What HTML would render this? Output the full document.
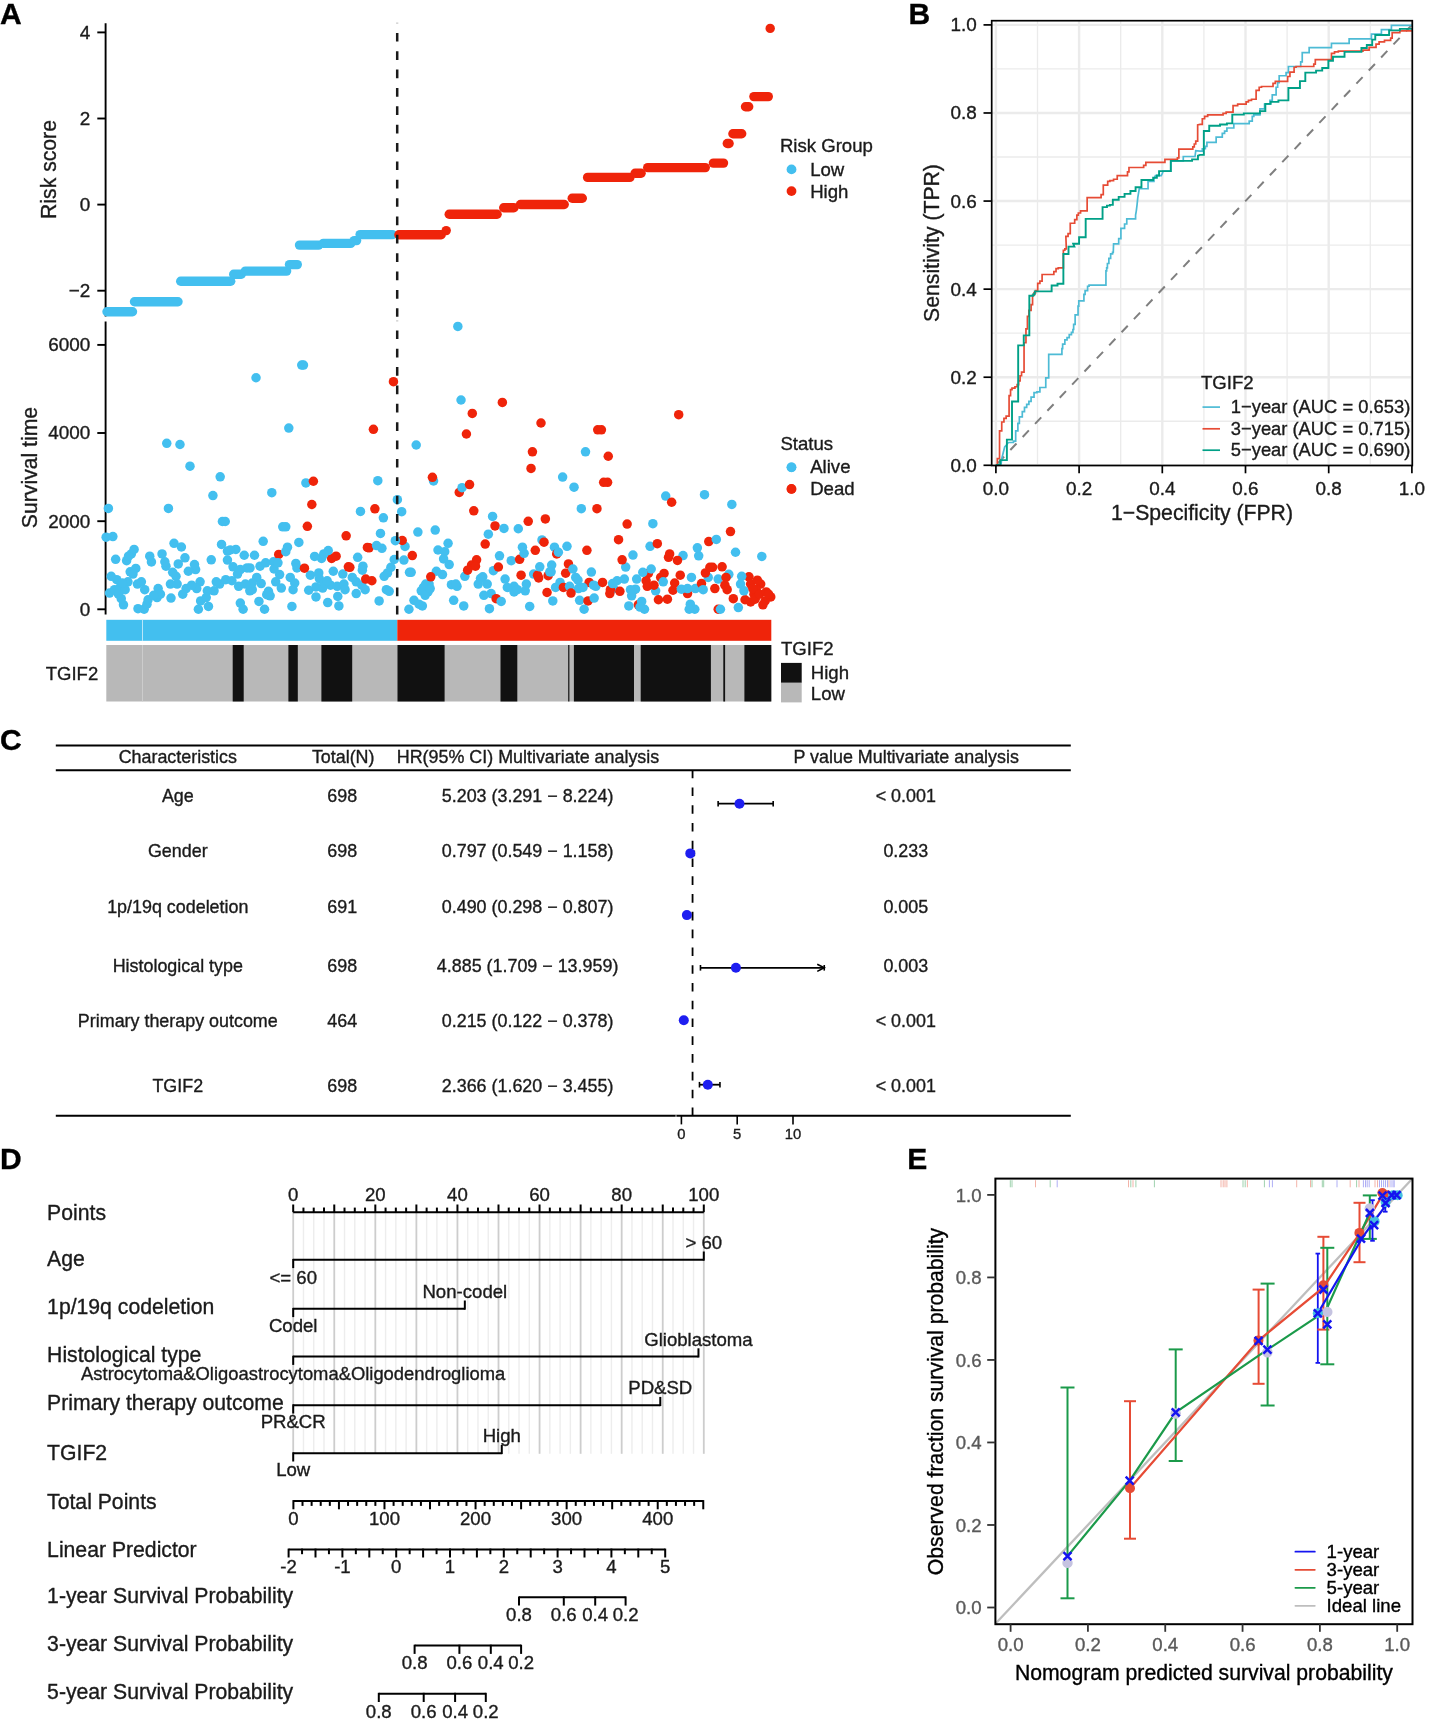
<!DOCTYPE html>
<html><head><meta charset="utf-8"><title>Figure</title>
<style>
html,body{margin:0;padding:0;background:#fff;}
body{width:1431px;height:1724px;overflow:hidden;}
svg{display:block;font-family:"Liberation Sans",sans-serif;will-change:transform;}
text{stroke:currentColor;stroke-width:0.35px;paint-order:stroke;}
</style></head><body>
<svg width="1431" height="1724" viewBox="0 0 1431 1724">
<rect x="0" y="0" width="1431" height="1724" fill="#fff"/>
<text x="0" y="23.9" font-size="30" font-weight="bold" fill="#000" color="#000">A</text>
<text x="908.5" y="24" font-size="30" font-weight="bold" fill="#000" color="#000">B</text>
<text x="0" y="749.6" font-size="30" font-weight="bold" fill="#000" color="#000">C</text>
<text x="0" y="1168.5" font-size="30" font-weight="bold" fill="#000" color="#000">D</text>
<text x="907.3" y="1168.9" font-size="30" font-weight="bold" fill="#000" color="#000">E</text>
<line x1="105.6" y1="23.3" x2="105.6" y2="316.6" stroke="#000" stroke-width="1.9"/>
<line x1="97.3" y1="32.4" x2="105.6" y2="32.4" stroke="#000" stroke-width="1.9"/>
<text x="90.3" y="38.8" font-size="18.9" text-anchor="end" fill="#1a1a1a" color="#1a1a1a">4</text>
<line x1="97.3" y1="118.5" x2="105.6" y2="118.5" stroke="#000" stroke-width="1.9"/>
<text x="90.3" y="124.9" font-size="18.9" text-anchor="end" fill="#1a1a1a" color="#1a1a1a">2</text>
<line x1="97.3" y1="204.6" x2="105.6" y2="204.6" stroke="#000" stroke-width="1.9"/>
<text x="90.3" y="211" font-size="18.9" text-anchor="end" fill="#1a1a1a" color="#1a1a1a">0</text>
<line x1="97.3" y1="290.7" x2="105.6" y2="290.7" stroke="#000" stroke-width="1.9"/>
<text x="90.3" y="297.1" font-size="18.9" text-anchor="end" fill="#1a1a1a" color="#1a1a1a">−2</text>
<text x="0" y="0" font-size="21.2" text-anchor="middle" fill="#1a1a1a" color="#1a1a1a" transform="translate(56.3,169.5) rotate(-90)">Risk score</text>
<line x1="107" y1="311.7" x2="132.5" y2="311.7" stroke="#43BFEF" stroke-width="9.4" stroke-linecap="round"/>
<line x1="134.5" y1="301.8" x2="178" y2="301.8" stroke="#43BFEF" stroke-width="9.4" stroke-linecap="round"/>
<line x1="180.7" y1="281.2" x2="230.7" y2="281.2" stroke="#43BFEF" stroke-width="9.4" stroke-linecap="round"/>
<line x1="233.7" y1="274.2" x2="241.3" y2="274.2" stroke="#43BFEF" stroke-width="9.4" stroke-linecap="round"/>
<line x1="245.3" y1="271.1" x2="286.6" y2="271.1" stroke="#43BFEF" stroke-width="9.4" stroke-linecap="round"/>
<line x1="289.5" y1="264.6" x2="297.3" y2="264.6" stroke="#43BFEF" stroke-width="9.4" stroke-linecap="round"/>
<line x1="299.5" y1="245.1" x2="318.6" y2="245.1" stroke="#43BFEF" stroke-width="9.4" stroke-linecap="round"/>
<line x1="323.3" y1="243.4" x2="350.7" y2="243.4" stroke="#43BFEF" stroke-width="9.4" stroke-linecap="round"/>
<line x1="354.2" y1="240.6" x2="356.6" y2="240.6" stroke="#43BFEF" stroke-width="9.4" stroke-linecap="round"/>
<line x1="360.1" y1="234.6" x2="392.3" y2="234.6" stroke="#43BFEF" stroke-width="9.4" stroke-linecap="round"/>
<line x1="398.9" y1="234.7" x2="441.2" y2="234.7" stroke="#EF240A" stroke-width="9.4" stroke-linecap="round"/>
<line x1="446.2" y1="230.6" x2="446.2" y2="230.6" stroke="#EF240A" stroke-width="9.4" stroke-linecap="round"/>
<line x1="449.2" y1="214.3" x2="497.1" y2="214.3" stroke="#EF240A" stroke-width="9.4" stroke-linecap="round"/>
<line x1="503.7" y1="207.8" x2="513.9" y2="207.8" stroke="#EF240A" stroke-width="9.4" stroke-linecap="round"/>
<line x1="520.5" y1="204.5" x2="564.2" y2="204.5" stroke="#EF240A" stroke-width="9.4" stroke-linecap="round"/>
<line x1="572.2" y1="198.3" x2="582.3" y2="198.3" stroke="#EF240A" stroke-width="9.4" stroke-linecap="round"/>
<line x1="587.6" y1="177.4" x2="629.9" y2="177.4" stroke="#EF240A" stroke-width="9.4" stroke-linecap="round"/>
<line x1="635.1" y1="173.2" x2="641.1" y2="173.2" stroke="#EF240A" stroke-width="9.4" stroke-linecap="round"/>
<line x1="647.7" y1="167.6" x2="705.3" y2="167.6" stroke="#EF240A" stroke-width="9.4" stroke-linecap="round"/>
<line x1="713.4" y1="163.1" x2="723.5" y2="163.1" stroke="#EF240A" stroke-width="9.4" stroke-linecap="round"/>
<line x1="727.3" y1="143.5" x2="729.1" y2="143.5" stroke="#EF240A" stroke-width="9.4" stroke-linecap="round"/>
<line x1="732.9" y1="133.8" x2="741.7" y2="133.8" stroke="#EF240A" stroke-width="9.4" stroke-linecap="round"/>
<line x1="745.5" y1="106.7" x2="748.7" y2="106.7" stroke="#EF240A" stroke-width="9.4" stroke-linecap="round"/>
<line x1="753.9" y1="96.6" x2="768.3" y2="96.6" stroke="#EF240A" stroke-width="9.4" stroke-linecap="round"/>
<circle cx="770.2" cy="28.4" r="4.7" fill="#EF240A"/>
<line x1="397.2" y1="32.9" x2="397.2" y2="316.8" stroke="#1a1a1a" stroke-width="2.5" stroke-dasharray="8.7 9.66"/>
<line x1="397.2" y1="22.6" x2="397.2" y2="23.6" stroke="#bbbbbb" stroke-width="2.2"/>
<text x="779.9" y="152.1" font-size="18.6" fill="#1a1a1a" color="#1a1a1a">Risk Group</text>
<circle cx="791.5" cy="169.4" r="4.9" fill="#43BFEF"/>
<circle cx="791.5" cy="191.1" r="4.9" fill="#EF240A"/>
<text x="810.2" y="176.3" font-size="18.6" fill="#1a1a1a" color="#1a1a1a">Low</text>
<text x="810.2" y="197.9" font-size="18.6" fill="#1a1a1a" color="#1a1a1a">High</text>
<line x1="105.6" y1="321.4" x2="105.6" y2="614.4" stroke="#000" stroke-width="1.9"/>
<line x1="97.3" y1="344.9" x2="105.6" y2="344.9" stroke="#000" stroke-width="1.9"/>
<text x="90.3" y="351.3" font-size="18.9" text-anchor="end" fill="#1a1a1a" color="#1a1a1a">6000</text>
<line x1="97.3" y1="433" x2="105.6" y2="433" stroke="#000" stroke-width="1.9"/>
<text x="90.3" y="439.4" font-size="18.9" text-anchor="end" fill="#1a1a1a" color="#1a1a1a">4000</text>
<line x1="97.3" y1="521.2" x2="105.6" y2="521.2" stroke="#000" stroke-width="1.9"/>
<text x="90.3" y="527.6" font-size="18.9" text-anchor="end" fill="#1a1a1a" color="#1a1a1a">2000</text>
<line x1="97.3" y1="609.3" x2="105.6" y2="609.3" stroke="#000" stroke-width="1.9"/>
<text x="90.3" y="615.7" font-size="18.9" text-anchor="end" fill="#1a1a1a" color="#1a1a1a">0</text>
<text x="0" y="0" font-size="21.2" text-anchor="middle" fill="#1a1a1a" color="#1a1a1a" transform="translate(37.3,467.5) rotate(-90)">Survival time</text>
<circle cx="115.65" cy="559.28" r="4.75" fill="#43BFEF"/>
<circle cx="112.86" cy="536.59" r="4.75" fill="#43BFEF"/>
<circle cx="109.5" cy="593.05" r="4.75" fill="#43BFEF"/>
<circle cx="108.39" cy="508.41" r="4.75" fill="#43BFEF"/>
<circle cx="116.77" cy="579.63" r="4.75" fill="#43BFEF"/>
<circle cx="130.19" cy="571.81" r="4.75" fill="#43BFEF"/>
<circle cx="114.53" cy="589.7" r="4.75" fill="#43BFEF"/>
<circle cx="106.15" cy="537.15" r="4.75" fill="#43BFEF"/>
<circle cx="135.78" cy="568.45" r="4.75" fill="#43BFEF"/>
<circle cx="127.95" cy="581.87" r="4.75" fill="#43BFEF"/>
<circle cx="120.13" cy="587.46" r="4.75" fill="#43BFEF"/>
<circle cx="125.16" cy="589.7" r="4.75" fill="#43BFEF"/>
<circle cx="132.98" cy="574.04" r="4.75" fill="#43BFEF"/>
<circle cx="118.45" cy="594.17" r="4.75" fill="#43BFEF"/>
<circle cx="122.36" cy="582.99" r="4.75" fill="#43BFEF"/>
<circle cx="111.18" cy="576.28" r="4.75" fill="#43BFEF"/>
<circle cx="131.31" cy="553.92" r="4.75" fill="#43BFEF"/>
<circle cx="144.16" cy="609.26" r="4.75" fill="#43BFEF"/>
<circle cx="123.48" cy="604.79" r="4.75" fill="#43BFEF"/>
<circle cx="126.61" cy="560.63" r="4.75" fill="#43BFEF"/>
<circle cx="128.51" cy="556.15" r="4.75" fill="#43BFEF"/>
<circle cx="121.24" cy="598.64" r="4.75" fill="#43BFEF"/>
<circle cx="138.01" cy="608.7" r="4.75" fill="#43BFEF"/>
<circle cx="157.02" cy="597.52" r="4.75" fill="#43BFEF"/>
<circle cx="134.1" cy="549.45" r="4.75" fill="#43BFEF"/>
<circle cx="165.97" cy="566.22" r="4.75" fill="#43BFEF"/>
<circle cx="151.43" cy="561.97" r="4.75" fill="#43BFEF"/>
<circle cx="137.46" cy="584.11" r="4.75" fill="#43BFEF"/>
<circle cx="172.67" cy="572.37" r="4.75" fill="#43BFEF"/>
<circle cx="141.37" cy="581.87" r="4.75" fill="#43BFEF"/>
<circle cx="166.76" cy="443.28" r="4.75" fill="#43BFEF"/>
<circle cx="158.14" cy="588.58" r="4.75" fill="#43BFEF"/>
<circle cx="146.96" cy="604.23" r="4.75" fill="#43BFEF"/>
<circle cx="174.02" cy="543.3" r="4.75" fill="#43BFEF"/>
<circle cx="144.72" cy="589.7" r="4.75" fill="#43BFEF"/>
<circle cx="149.75" cy="556.15" r="4.75" fill="#43BFEF"/>
<circle cx="148.08" cy="599.76" r="4.75" fill="#43BFEF"/>
<circle cx="177.15" cy="584.11" r="4.75" fill="#43BFEF"/>
<circle cx="160.38" cy="594.17" r="4.75" fill="#43BFEF"/>
<circle cx="186.09" cy="588.58" r="4.75" fill="#43BFEF"/>
<circle cx="153.67" cy="595.29" r="4.75" fill="#43BFEF"/>
<circle cx="162.05" cy="553.92" r="4.75" fill="#43BFEF"/>
<circle cx="164.85" cy="561.74" r="4.75" fill="#43BFEF"/>
<circle cx="170.44" cy="584.11" r="4.75" fill="#43BFEF"/>
<circle cx="168.43" cy="508.41" r="4.75" fill="#43BFEF"/>
<circle cx="195.59" cy="569.57" r="4.75" fill="#43BFEF"/>
<circle cx="190" cy="466.15" r="4.75" fill="#43BFEF"/>
<circle cx="178.26" cy="563.98" r="4.75" fill="#43BFEF"/>
<circle cx="171" cy="598.08" r="4.75" fill="#43BFEF"/>
<circle cx="200.07" cy="581.87" r="4.75" fill="#43BFEF"/>
<circle cx="194.48" cy="564.54" r="4.75" fill="#43BFEF"/>
<circle cx="198.39" cy="609.26" r="4.75" fill="#43BFEF"/>
<circle cx="176.03" cy="576.28" r="4.75" fill="#43BFEF"/>
<circle cx="208.45" cy="606.47" r="4.75" fill="#43BFEF"/>
<circle cx="196.71" cy="588.58" r="4.75" fill="#43BFEF"/>
<circle cx="179.97" cy="444.51" r="4.75" fill="#43BFEF"/>
<circle cx="184.97" cy="557.83" r="4.75" fill="#43BFEF"/>
<circle cx="214.04" cy="590.81" r="4.75" fill="#43BFEF"/>
<circle cx="181.4" cy="546.99" r="4.75" fill="#43BFEF"/>
<circle cx="182.74" cy="594.17" r="4.75" fill="#43BFEF"/>
<circle cx="188.33" cy="571.25" r="4.75" fill="#43BFEF"/>
<circle cx="191.68" cy="585.22" r="4.75" fill="#43BFEF"/>
<circle cx="222.43" cy="521.49" r="4.75" fill="#43BFEF"/>
<circle cx="225.22" cy="521.49" r="4.75" fill="#43BFEF"/>
<circle cx="212.92" cy="495.55" r="4.75" fill="#43BFEF"/>
<circle cx="211.25" cy="559.84" r="4.75" fill="#43BFEF"/>
<circle cx="200.63" cy="600.88" r="4.75" fill="#43BFEF"/>
<circle cx="207.33" cy="590.81" r="4.75" fill="#43BFEF"/>
<circle cx="219.63" cy="584.11" r="4.75" fill="#43BFEF"/>
<circle cx="221.53" cy="544.41" r="4.75" fill="#43BFEF"/>
<circle cx="206.22" cy="597.52" r="4.75" fill="#43BFEF"/>
<circle cx="220.19" cy="476.77" r="4.75" fill="#43BFEF"/>
<circle cx="240.32" cy="603.11" r="4.75" fill="#43BFEF"/>
<circle cx="216.28" cy="581.87" r="4.75" fill="#43BFEF"/>
<circle cx="237.52" cy="574.04" r="4.75" fill="#43BFEF"/>
<circle cx="227.46" cy="551.12" r="4.75" fill="#43BFEF"/>
<circle cx="256.71" cy="577.4" r="4.75" fill="#43BFEF"/>
<circle cx="238.64" cy="586.34" r="4.75" fill="#43BFEF"/>
<circle cx="244.23" cy="555.26" r="4.75" fill="#43BFEF"/>
<circle cx="225.78" cy="579.63" r="4.75" fill="#43BFEF"/>
<circle cx="249.82" cy="590.81" r="4.75" fill="#43BFEF"/>
<circle cx="256.03" cy="377.74" r="4.75" fill="#43BFEF"/>
<circle cx="254.47" cy="555.26" r="4.75" fill="#43BFEF"/>
<circle cx="258.94" cy="601.44" r="4.75" fill="#43BFEF"/>
<circle cx="227.46" cy="560.07" r="4.75" fill="#43BFEF"/>
<circle cx="235.85" cy="549.45" r="4.75" fill="#43BFEF"/>
<circle cx="252.24" cy="589.7" r="4.75" fill="#43BFEF"/>
<circle cx="233.05" cy="566.78" r="4.75" fill="#43BFEF"/>
<circle cx="230.25" cy="550" r="4.75" fill="#43BFEF"/>
<circle cx="243.11" cy="609.26" r="4.75" fill="#43BFEF"/>
<circle cx="231.93" cy="580.75" r="4.75" fill="#43BFEF"/>
<circle cx="270.13" cy="595.85" r="4.75" fill="#43BFEF"/>
<circle cx="250" cy="567.89" r="4.75" fill="#43BFEF"/>
<circle cx="264.53" cy="609.26" r="4.75" fill="#43BFEF"/>
<circle cx="240.32" cy="569.57" r="4.75" fill="#43BFEF"/>
<circle cx="260.06" cy="566.22" r="4.75" fill="#43BFEF"/>
<circle cx="266.77" cy="594.73" r="4.75" fill="#43BFEF"/>
<circle cx="279.63" cy="574.6" r="4.75" fill="#43BFEF"/>
<circle cx="252.24" cy="582.99" r="4.75" fill="#43BFEF"/>
<circle cx="247.03" cy="567.89" r="4.75" fill="#43BFEF"/>
<circle cx="261.18" cy="583.55" r="4.75" fill="#43BFEF"/>
<circle cx="275.72" cy="581.87" r="4.75" fill="#43BFEF"/>
<circle cx="245.35" cy="584.11" r="4.75" fill="#43BFEF"/>
<circle cx="263.19" cy="541.28" r="4.75" fill="#43BFEF"/>
<circle cx="273.48" cy="561.74" r="4.75" fill="#43BFEF"/>
<circle cx="271.8" cy="492.65" r="4.75" fill="#43BFEF"/>
<circle cx="278.73" cy="554.48" r="4.75" fill="#EF240A"/>
<circle cx="265.65" cy="562.86" r="4.75" fill="#43BFEF"/>
<circle cx="268.45" cy="591.37" r="4.75" fill="#43BFEF"/>
<circle cx="295.84" cy="563.42" r="4.75" fill="#43BFEF"/>
<circle cx="290.25" cy="577.4" r="4.75" fill="#43BFEF"/>
<circle cx="285.78" cy="526.86" r="4.75" fill="#43BFEF"/>
<circle cx="294.72" cy="582.99" r="4.75" fill="#43BFEF"/>
<circle cx="274.04" cy="569.01" r="4.75" fill="#43BFEF"/>
<circle cx="277.95" cy="562.86" r="4.75" fill="#43BFEF"/>
<circle cx="285.78" cy="551.68" r="4.75" fill="#43BFEF"/>
<circle cx="305.9" cy="482.92" r="4.75" fill="#43BFEF"/>
<circle cx="301.76" cy="365.03" r="4.75" fill="#43BFEF"/>
<circle cx="293.05" cy="589.7" r="4.75" fill="#43BFEF"/>
<circle cx="281.31" cy="588.02" r="4.75" fill="#43BFEF"/>
<circle cx="303.47" cy="365.03" r="4.75" fill="#43BFEF"/>
<circle cx="282.76" cy="526.86" r="4.75" fill="#43BFEF"/>
<circle cx="310.38" cy="575.16" r="4.75" fill="#43BFEF"/>
<circle cx="298.86" cy="542.4" r="4.75" fill="#43BFEF"/>
<circle cx="313.39" cy="481.24" r="4.75" fill="#EF240A"/>
<circle cx="321.56" cy="558.39" r="4.75" fill="#43BFEF"/>
<circle cx="308.7" cy="590.25" r="4.75" fill="#43BFEF"/>
<circle cx="288.8" cy="428.12" r="4.75" fill="#43BFEF"/>
<circle cx="291.93" cy="606.47" r="4.75" fill="#43BFEF"/>
<circle cx="296.96" cy="567.89" r="4.75" fill="#43BFEF"/>
<circle cx="307.36" cy="526.3" r="4.75" fill="#EF240A"/>
<circle cx="287.46" cy="547.21" r="4.75" fill="#43BFEF"/>
<circle cx="331.62" cy="558.39" r="4.75" fill="#EF240A"/>
<circle cx="319.32" cy="578.52" r="4.75" fill="#43BFEF"/>
<circle cx="311.83" cy="504.5" r="4.75" fill="#EF240A"/>
<circle cx="314.62" cy="556.38" r="4.75" fill="#43BFEF"/>
<circle cx="318.76" cy="572.92" r="4.75" fill="#43BFEF"/>
<circle cx="330.5" cy="585.22" r="4.75" fill="#43BFEF"/>
<circle cx="322.67" cy="588.02" r="4.75" fill="#43BFEF"/>
<circle cx="323.79" cy="582.99" r="4.75" fill="#43BFEF"/>
<circle cx="304.45" cy="568.23" r="4.75" fill="#EF240A"/>
<circle cx="328.26" cy="550.56" r="4.75" fill="#43BFEF"/>
<circle cx="323.79" cy="553.92" r="4.75" fill="#43BFEF"/>
<circle cx="315.97" cy="596.96" r="4.75" fill="#43BFEF"/>
<circle cx="315.97" cy="586.9" r="4.75" fill="#43BFEF"/>
<circle cx="337.21" cy="586.34" r="4.75" fill="#43BFEF"/>
<circle cx="338.89" cy="605.91" r="4.75" fill="#43BFEF"/>
<circle cx="342.8" cy="574.04" r="4.75" fill="#43BFEF"/>
<circle cx="333.3" cy="571.25" r="4.75" fill="#43BFEF"/>
<circle cx="327.71" cy="602.55" r="4.75" fill="#43BFEF"/>
<circle cx="336.09" cy="556.15" r="4.75" fill="#EF240A"/>
<circle cx="348.39" cy="566.78" r="4.75" fill="#EF240A"/>
<circle cx="327.15" cy="580.75" r="4.75" fill="#43BFEF"/>
<circle cx="337.77" cy="596.4" r="4.75" fill="#43BFEF"/>
<circle cx="356.22" cy="593.61" r="4.75" fill="#43BFEF"/>
<circle cx="349.84" cy="567.33" r="4.75" fill="#EF240A"/>
<circle cx="356.22" cy="581.87" r="4.75" fill="#43BFEF"/>
<circle cx="361.81" cy="585.22" r="4.75" fill="#43BFEF"/>
<circle cx="346.15" cy="535.81" r="4.75" fill="#EF240A"/>
<circle cx="343.92" cy="584.11" r="4.75" fill="#43BFEF"/>
<circle cx="352.3" cy="577.4" r="4.75" fill="#43BFEF"/>
<circle cx="362.92" cy="566.22" r="4.75" fill="#43BFEF"/>
<circle cx="345.04" cy="589.7" r="4.75" fill="#43BFEF"/>
<circle cx="357.67" cy="557.27" r="4.75" fill="#43BFEF"/>
<circle cx="377.8" cy="480.68" r="4.75" fill="#43BFEF"/>
<circle cx="367.4" cy="547.43" r="4.75" fill="#EF240A"/>
<circle cx="362.37" cy="570.13" r="4.75" fill="#43BFEF"/>
<circle cx="365.16" cy="589.7" r="4.75" fill="#43BFEF"/>
<circle cx="374.89" cy="508.86" r="4.75" fill="#EF240A"/>
<circle cx="379.14" cy="600.88" r="4.75" fill="#43BFEF"/>
<circle cx="386.4" cy="589.7" r="4.75" fill="#43BFEF"/>
<circle cx="360.47" cy="511.43" r="4.75" fill="#43BFEF"/>
<circle cx="394.23" cy="559.51" r="4.75" fill="#43BFEF"/>
<circle cx="369.07" cy="547.77" r="4.75" fill="#EF240A"/>
<circle cx="365.72" cy="579.07" r="4.75" fill="#EF240A"/>
<circle cx="397.36" cy="499.69" r="4.75" fill="#43BFEF"/>
<circle cx="389.2" cy="591.37" r="4.75" fill="#43BFEF"/>
<circle cx="381.93" cy="548.33" r="4.75" fill="#43BFEF"/>
<circle cx="387.52" cy="572.92" r="4.75" fill="#43BFEF"/>
<circle cx="390.88" cy="567.33" r="4.75" fill="#43BFEF"/>
<circle cx="371.87" cy="580.75" r="4.75" fill="#EF240A"/>
<circle cx="380.48" cy="533.46" r="4.75" fill="#43BFEF"/>
<circle cx="405.03" cy="546.43" r="4.75" fill="#43BFEF"/>
<circle cx="373.42" cy="429.34" r="4.75" fill="#EF240A"/>
<circle cx="402.24" cy="540.5" r="4.75" fill="#EF240A"/>
<circle cx="376.57" cy="545.53" r="4.75" fill="#43BFEF"/>
<circle cx="384.17" cy="576.28" r="4.75" fill="#43BFEF"/>
<circle cx="403.91" cy="560.07" r="4.75" fill="#43BFEF"/>
<circle cx="408.94" cy="609.26" r="4.75" fill="#43BFEF"/>
<circle cx="401.68" cy="511.65" r="4.75" fill="#43BFEF"/>
<circle cx="395.35" cy="540.72" r="4.75" fill="#43BFEF"/>
<circle cx="393.47" cy="381.66" r="4.75" fill="#EF240A"/>
<circle cx="383.39" cy="517.8" r="4.75" fill="#43BFEF"/>
<circle cx="421.24" cy="590.81" r="4.75" fill="#43BFEF"/>
<circle cx="416.21" cy="445" r="4.75" fill="#43BFEF"/>
<circle cx="411.18" cy="572.37" r="4.75" fill="#43BFEF"/>
<circle cx="425.72" cy="584.11" r="4.75" fill="#43BFEF"/>
<circle cx="429.07" cy="584.11" r="4.75" fill="#43BFEF"/>
<circle cx="412.3" cy="555.59" r="4.75" fill="#EF240A"/>
<circle cx="422.36" cy="605.91" r="4.75" fill="#43BFEF"/>
<circle cx="423.48" cy="587.46" r="4.75" fill="#43BFEF"/>
<circle cx="433.54" cy="480.91" r="4.75" fill="#43BFEF"/>
<circle cx="413.98" cy="600.32" r="4.75" fill="#43BFEF"/>
<circle cx="419.01" cy="604.23" r="4.75" fill="#43BFEF"/>
<circle cx="409.5" cy="572.37" r="4.75" fill="#43BFEF"/>
<circle cx="417.89" cy="532.12" r="4.75" fill="#43BFEF"/>
<circle cx="448.08" cy="543.3" r="4.75" fill="#43BFEF"/>
<circle cx="442.49" cy="574.6" r="4.75" fill="#43BFEF"/>
<circle cx="436.34" cy="571.25" r="4.75" fill="#43BFEF"/>
<circle cx="427.95" cy="591.93" r="4.75" fill="#43BFEF"/>
<circle cx="451.43" cy="584.66" r="4.75" fill="#43BFEF"/>
<circle cx="435.22" cy="530.1" r="4.75" fill="#43BFEF"/>
<circle cx="459.26" cy="492.42" r="4.75" fill="#EF240A"/>
<circle cx="430.75" cy="576.84" r="4.75" fill="#EF240A"/>
<circle cx="425.16" cy="595.29" r="4.75" fill="#43BFEF"/>
<circle cx="430.19" cy="588.58" r="4.75" fill="#43BFEF"/>
<circle cx="453.67" cy="600.32" r="4.75" fill="#43BFEF"/>
<circle cx="432.42" cy="477.33" r="4.75" fill="#EF240A"/>
<circle cx="457.02" cy="586.34" r="4.75" fill="#43BFEF"/>
<circle cx="438.01" cy="550" r="4.75" fill="#43BFEF"/>
<circle cx="443.6" cy="558.95" r="4.75" fill="#43BFEF"/>
<circle cx="457.85" cy="326.39" r="4.75" fill="#43BFEF"/>
<circle cx="472.28" cy="413.45" r="4.75" fill="#EF240A"/>
<circle cx="455.9" cy="584.11" r="4.75" fill="#43BFEF"/>
<circle cx="463.73" cy="605.91" r="4.75" fill="#43BFEF"/>
<circle cx="466.41" cy="433.99" r="4.75" fill="#EF240A"/>
<circle cx="444.72" cy="551.68" r="4.75" fill="#43BFEF"/>
<circle cx="449.19" cy="564.54" r="4.75" fill="#43BFEF"/>
<circle cx="464.85" cy="576.28" r="4.75" fill="#43BFEF"/>
<circle cx="471.56" cy="565.1" r="4.75" fill="#EF240A"/>
<circle cx="482.74" cy="576.84" r="4.75" fill="#43BFEF"/>
<circle cx="461.03" cy="400" r="4.75" fill="#43BFEF"/>
<circle cx="491.12" cy="593.61" r="4.75" fill="#43BFEF"/>
<circle cx="483.86" cy="595.29" r="4.75" fill="#43BFEF"/>
<circle cx="476.59" cy="559.84" r="4.75" fill="#EF240A"/>
<circle cx="485.2" cy="544.08" r="4.75" fill="#EF240A"/>
<circle cx="462.05" cy="487.73" r="4.75" fill="#43BFEF"/>
<circle cx="488.33" cy="534.13" r="4.75" fill="#43BFEF"/>
<circle cx="475.47" cy="566.22" r="4.75" fill="#EF240A"/>
<circle cx="489.45" cy="608.7" r="4.75" fill="#43BFEF"/>
<circle cx="469.54" cy="484.6" r="4.75" fill="#EF240A"/>
<circle cx="467.64" cy="570.13" r="4.75" fill="#EF240A"/>
<circle cx="502.36" cy="402.44" r="4.75" fill="#EF240A"/>
<circle cx="499.51" cy="555.82" r="4.75" fill="#43BFEF"/>
<circle cx="493.36" cy="570.69" r="4.75" fill="#43BFEF"/>
<circle cx="498.39" cy="567" r="4.75" fill="#EF240A"/>
<circle cx="478.26" cy="584.11" r="4.75" fill="#43BFEF"/>
<circle cx="492.58" cy="516.46" r="4.75" fill="#43BFEF"/>
<circle cx="480.5" cy="578.52" r="4.75" fill="#43BFEF"/>
<circle cx="473.79" cy="510.87" r="4.75" fill="#EF240A"/>
<circle cx="514.04" cy="586.34" r="4.75" fill="#43BFEF"/>
<circle cx="514.04" cy="591.93" r="4.75" fill="#43BFEF"/>
<circle cx="496.15" cy="598.64" r="4.75" fill="#EF240A"/>
<circle cx="511.25" cy="560.63" r="4.75" fill="#43BFEF"/>
<circle cx="487.21" cy="584.11" r="4.75" fill="#43BFEF"/>
<circle cx="518.29" cy="528.76" r="4.75" fill="#43BFEF"/>
<circle cx="525.22" cy="590.81" r="4.75" fill="#43BFEF"/>
<circle cx="501.19" cy="601.44" r="4.75" fill="#43BFEF"/>
<circle cx="521.09" cy="575.16" r="4.75" fill="#EF240A"/>
<circle cx="495.04" cy="525.97" r="4.75" fill="#EF240A"/>
<circle cx="529.7" cy="606.47" r="4.75" fill="#43BFEF"/>
<circle cx="505.1" cy="579.07" r="4.75" fill="#43BFEF"/>
<circle cx="507.33" cy="587.46" r="4.75" fill="#43BFEF"/>
<circle cx="503.98" cy="528.43" r="4.75" fill="#43BFEF"/>
<circle cx="541.99" cy="539.94" r="4.75" fill="#43BFEF"/>
<circle cx="517.4" cy="589.7" r="4.75" fill="#43BFEF"/>
<circle cx="533.61" cy="574.04" r="4.75" fill="#43BFEF"/>
<circle cx="519.63" cy="559.28" r="4.75" fill="#EF240A"/>
<circle cx="531.04" cy="468.39" r="4.75" fill="#EF240A"/>
<circle cx="548.14" cy="575.72" r="4.75" fill="#EF240A"/>
<circle cx="547.03" cy="592.49" r="4.75" fill="#EF240A"/>
<circle cx="532.44" cy="451.84" r="4.75" fill="#EF240A"/>
<circle cx="538.64" cy="577.96" r="4.75" fill="#EF240A"/>
<circle cx="528.24" cy="521.27" r="4.75" fill="#EF240A"/>
<circle cx="522.43" cy="547.21" r="4.75" fill="#43BFEF"/>
<circle cx="535.29" cy="550.34" r="4.75" fill="#EF240A"/>
<circle cx="537.52" cy="575.16" r="4.75" fill="#EF240A"/>
<circle cx="539.76" cy="566.78" r="4.75" fill="#43BFEF"/>
<circle cx="555.59" cy="587.46" r="4.75" fill="#43BFEF"/>
<circle cx="524.11" cy="553.36" r="4.75" fill="#43BFEF"/>
<circle cx="526.34" cy="584.11" r="4.75" fill="#43BFEF"/>
<circle cx="560.06" cy="582.43" r="4.75" fill="#43BFEF"/>
<circle cx="563.42" cy="587.46" r="4.75" fill="#EF240A"/>
<circle cx="565.65" cy="573.15" r="4.75" fill="#EF240A"/>
<circle cx="554.47" cy="547.21" r="4.75" fill="#43BFEF"/>
<circle cx="556.71" cy="553.92" r="4.75" fill="#EF240A"/>
<circle cx="544.01" cy="542.18" r="4.75" fill="#EF240A"/>
<circle cx="541" cy="422.99" r="4.75" fill="#EF240A"/>
<circle cx="569.57" cy="586.34" r="4.75" fill="#43BFEF"/>
<circle cx="551.68" cy="565.1" r="4.75" fill="#43BFEF"/>
<circle cx="545.35" cy="518.92" r="4.75" fill="#EF240A"/>
<circle cx="578.51" cy="588.58" r="4.75" fill="#43BFEF"/>
<circle cx="551.12" cy="571.81" r="4.75" fill="#43BFEF"/>
<circle cx="549.82" cy="571.81" r="4.75" fill="#43BFEF"/>
<circle cx="575.72" cy="577.4" r="4.75" fill="#43BFEF"/>
<circle cx="552.8" cy="600.88" r="4.75" fill="#43BFEF"/>
<circle cx="585.51" cy="451.84" r="4.75" fill="#43BFEF"/>
<circle cx="574.04" cy="487.17" r="4.75" fill="#43BFEF"/>
<circle cx="568.45" cy="563.98" r="4.75" fill="#EF240A"/>
<circle cx="591.37" cy="572.03" r="4.75" fill="#43BFEF"/>
<circle cx="558.39" cy="552.24" r="4.75" fill="#43BFEF"/>
<circle cx="562.63" cy="477.11" r="4.75" fill="#43BFEF"/>
<circle cx="589.13" cy="582.43" r="4.75" fill="#EF240A"/>
<circle cx="572.92" cy="569.01" r="4.75" fill="#43BFEF"/>
<circle cx="581.31" cy="508.64" r="4.75" fill="#43BFEF"/>
<circle cx="586.9" cy="550.34" r="4.75" fill="#EF240A"/>
<circle cx="566.99" cy="546.31" r="4.75" fill="#43BFEF"/>
<circle cx="571.02" cy="593.05" r="4.75" fill="#EF240A"/>
<circle cx="579.63" cy="600.32" r="4.75" fill="#43BFEF"/>
<circle cx="588.01" cy="600.88" r="4.75" fill="#EF240A"/>
<circle cx="577.95" cy="580.19" r="4.75" fill="#43BFEF"/>
<circle cx="584.1" cy="609.26" r="4.75" fill="#43BFEF"/>
<circle cx="596.96" cy="508.64" r="4.75" fill="#EF240A"/>
<circle cx="597.74" cy="429.83" r="4.75" fill="#EF240A"/>
<circle cx="594.16" cy="598.08" r="4.75" fill="#43BFEF"/>
<circle cx="613.73" cy="588.58" r="4.75" fill="#43BFEF"/>
<circle cx="582.98" cy="587.46" r="4.75" fill="#43BFEF"/>
<circle cx="608.26" cy="456.25" r="4.75" fill="#EF240A"/>
<circle cx="595.84" cy="586.34" r="4.75" fill="#43BFEF"/>
<circle cx="601.41" cy="429.83" r="4.75" fill="#EF240A"/>
<circle cx="593.6" cy="585.22" r="4.75" fill="#43BFEF"/>
<circle cx="618.54" cy="539.72" r="4.75" fill="#EF240A"/>
<circle cx="609.82" cy="593.61" r="4.75" fill="#EF240A"/>
<circle cx="607.58" cy="482.36" r="4.75" fill="#EF240A"/>
<circle cx="603.67" cy="482.36" r="4.75" fill="#EF240A"/>
<circle cx="602.55" cy="582.43" r="4.75" fill="#EF240A"/>
<circle cx="625.69" cy="567.11" r="4.75" fill="#43BFEF"/>
<circle cx="632.74" cy="590.81" r="4.75" fill="#EF240A"/>
<circle cx="635.53" cy="589.14" r="4.75" fill="#43BFEF"/>
<circle cx="617.08" cy="580.75" r="4.75" fill="#43BFEF"/>
<circle cx="636.65" cy="579.07" r="4.75" fill="#43BFEF"/>
<circle cx="610.38" cy="589.7" r="4.75" fill="#EF240A"/>
<circle cx="619.88" cy="591.37" r="4.75" fill="#EF240A"/>
<circle cx="612.61" cy="583.55" r="4.75" fill="#43BFEF"/>
<circle cx="648.39" cy="573.48" r="4.75" fill="#EF240A"/>
<circle cx="644.48" cy="609.26" r="4.75" fill="#43BFEF"/>
<circle cx="622.12" cy="559.84" r="4.75" fill="#EF240A"/>
<circle cx="627.15" cy="524.07" r="4.75" fill="#EF240A"/>
<circle cx="624.35" cy="579.07" r="4.75" fill="#43BFEF"/>
<circle cx="638.33" cy="604.79" r="4.75" fill="#EF240A"/>
<circle cx="646.15" cy="580.75" r="4.75" fill="#EF240A"/>
<circle cx="641.68" cy="601.44" r="4.75" fill="#43BFEF"/>
<circle cx="631.62" cy="595.85" r="4.75" fill="#43BFEF"/>
<circle cx="655.66" cy="590.81" r="4.75" fill="#43BFEF"/>
<circle cx="628.82" cy="605.91" r="4.75" fill="#43BFEF"/>
<circle cx="630.5" cy="589.7" r="4.75" fill="#43BFEF"/>
<circle cx="640" cy="607.03" r="4.75" fill="#43BFEF"/>
<circle cx="632.96" cy="555.04" r="4.75" fill="#43BFEF"/>
<circle cx="658.45" cy="599.76" r="4.75" fill="#EF240A"/>
<circle cx="647.27" cy="586.34" r="4.75" fill="#EF240A"/>
<circle cx="660.69" cy="577.4" r="4.75" fill="#EF240A"/>
<circle cx="664.04" cy="573.48" r="4.75" fill="#EF240A"/>
<circle cx="652.86" cy="523.73" r="4.75" fill="#43BFEF"/>
<circle cx="650.07" cy="546.31" r="4.75" fill="#43BFEF"/>
<circle cx="642.8" cy="572.37" r="4.75" fill="#43BFEF"/>
<circle cx="668.52" cy="557.27" r="4.75" fill="#EF240A"/>
<circle cx="667.4" cy="599.2" r="4.75" fill="#EF240A"/>
<circle cx="657.33" cy="543.63" r="4.75" fill="#EF240A"/>
<circle cx="665.72" cy="496.11" r="4.75" fill="#43BFEF"/>
<circle cx="653.98" cy="585.22" r="4.75" fill="#EF240A"/>
<circle cx="672.99" cy="590.25" r="4.75" fill="#EF240A"/>
<circle cx="663.26" cy="581.87" r="4.75" fill="#43BFEF"/>
<circle cx="669.63" cy="553.92" r="4.75" fill="#EF240A"/>
<circle cx="651.19" cy="569.01" r="4.75" fill="#43BFEF"/>
<circle cx="674.66" cy="582.99" r="4.75" fill="#EF240A"/>
<circle cx="687.52" cy="593.61" r="4.75" fill="#EF240A"/>
<circle cx="681.37" cy="589.14" r="4.75" fill="#43BFEF"/>
<circle cx="671.65" cy="502.26" r="4.75" fill="#EF240A"/>
<circle cx="690.32" cy="604.23" r="4.75" fill="#43BFEF"/>
<circle cx="694.79" cy="609.26" r="4.75" fill="#43BFEF"/>
<circle cx="687.52" cy="588.58" r="4.75" fill="#43BFEF"/>
<circle cx="678.69" cy="414.67" r="4.75" fill="#EF240A"/>
<circle cx="691.44" cy="577.4" r="4.75" fill="#43BFEF"/>
<circle cx="683.05" cy="555.59" r="4.75" fill="#43BFEF"/>
<circle cx="677.46" cy="560.4" r="4.75" fill="#EF240A"/>
<circle cx="680.25" cy="575.16" r="4.75" fill="#EF240A"/>
<circle cx="708.77" cy="541.62" r="4.75" fill="#EF240A"/>
<circle cx="689.2" cy="609.26" r="4.75" fill="#43BFEF"/>
<circle cx="708.21" cy="577.4" r="4.75" fill="#43BFEF"/>
<circle cx="695.35" cy="588.58" r="4.75" fill="#43BFEF"/>
<circle cx="701.5" cy="583.55" r="4.75" fill="#EF240A"/>
<circle cx="712.61" cy="567.33" r="4.75" fill="#EF240A"/>
<circle cx="704.52" cy="494.66" r="4.75" fill="#43BFEF"/>
<circle cx="714.85" cy="588.58" r="4.75" fill="#EF240A"/>
<circle cx="718.2" cy="609.26" r="4.75" fill="#EF240A"/>
<circle cx="728.82" cy="574.27" r="4.75" fill="#43BFEF"/>
<circle cx="720.44" cy="609.26" r="4.75" fill="#43BFEF"/>
<circle cx="698.7" cy="555.82" r="4.75" fill="#43BFEF"/>
<circle cx="722.12" cy="566.78" r="4.75" fill="#EF240A"/>
<circle cx="716.3" cy="539.38" r="4.75" fill="#43BFEF"/>
<circle cx="697.36" cy="547.77" r="4.75" fill="#43BFEF"/>
<circle cx="718.2" cy="579.07" r="4.75" fill="#43BFEF"/>
<circle cx="705.41" cy="572.92" r="4.75" fill="#EF240A"/>
<circle cx="709.88" cy="567.33" r="4.75" fill="#EF240A"/>
<circle cx="724.91" cy="585.22" r="4.75" fill="#EF240A"/>
<circle cx="727.15" cy="589.7" r="4.75" fill="#EF240A"/>
<circle cx="703.18" cy="589.7" r="4.75" fill="#43BFEF"/>
<circle cx="731.84" cy="504.39" r="4.75" fill="#43BFEF"/>
<circle cx="726.03" cy="577.4" r="4.75" fill="#EF240A"/>
<circle cx="740.56" cy="584.11" r="4.75" fill="#43BFEF"/>
<circle cx="738.33" cy="607.58" r="4.75" fill="#43BFEF"/>
<circle cx="730.5" cy="531.56" r="4.75" fill="#EF240A"/>
<circle cx="753.98" cy="594.17" r="4.75" fill="#EF240A"/>
<circle cx="750.63" cy="601.99" r="4.75" fill="#EF240A"/>
<circle cx="748.95" cy="576.84" r="4.75" fill="#EF240A"/>
<circle cx="735.53" cy="552.24" r="4.75" fill="#43BFEF"/>
<circle cx="733.3" cy="598.64" r="4.75" fill="#EF240A"/>
<circle cx="741.68" cy="576.28" r="4.75" fill="#43BFEF"/>
<circle cx="745.04" cy="599.76" r="4.75" fill="#EF240A"/>
<circle cx="750.63" cy="584.11" r="4.75" fill="#EF240A"/>
<circle cx="760.69" cy="584.11" r="4.75" fill="#EF240A"/>
<circle cx="757.33" cy="580.19" r="4.75" fill="#EF240A"/>
<circle cx="743.92" cy="590.81" r="4.75" fill="#43BFEF"/>
<circle cx="765.16" cy="600.88" r="4.75" fill="#EF240A"/>
<circle cx="756.22" cy="589.7" r="4.75" fill="#EF240A"/>
<circle cx="761.81" cy="556.38" r="4.75" fill="#43BFEF"/>
<circle cx="752.86" cy="588.58" r="4.75" fill="#EF240A"/>
<circle cx="755.1" cy="599.2" r="4.75" fill="#EF240A"/>
<circle cx="762.92" cy="604.79" r="4.75" fill="#EF240A"/>
<circle cx="770.75" cy="596.96" r="4.75" fill="#EF240A"/>
<circle cx="759.57" cy="594.17" r="4.75" fill="#EF240A"/>
<circle cx="766.28" cy="591.93" r="4.75" fill="#EF240A"/>
<circle cx="768.52" cy="594.17" r="4.75" fill="#EF240A"/>
<circle cx="791.44" cy="467.27" r="4.75" fill="#43BFEF"/>
<circle cx="791.44" cy="489.07" r="4.75" fill="#EF240A"/>
<line x1="397.2" y1="330.4" x2="397.2" y2="615" stroke="#1a1a1a" stroke-width="2.5" stroke-dasharray="8.7 9.66"/>
<line x1="397.2" y1="320.4" x2="397.2" y2="321.4" stroke="#bbbbbb" stroke-width="2.2"/>
<text x="780.4" y="449.8" font-size="18.6" fill="#1a1a1a" color="#1a1a1a">Status</text>
<circle cx="791.5" cy="467.3" r="4.9" fill="#43BFEF"/>
<circle cx="791.5" cy="488.9" r="4.9" fill="#EF240A"/>
<text x="810.2" y="473.3" font-size="18.6" fill="#1a1a1a" color="#1a1a1a">Alive</text>
<text x="810.2" y="495.4" font-size="18.6" fill="#1a1a1a" color="#1a1a1a">Dead</text>
<rect x="106.3" y="619.8" width="291" height="21" fill="#43BFEF"/>
<rect x="397.3" y="619.8" width="374" height="21" fill="#EF240A"/>
<line x1="142.5" y1="619.8" x2="142.5" y2="640.8" stroke="#d8f0fb" stroke-width="0.8"/>
<rect x="106.3" y="645" width="665" height="56.5" fill="#B8B8B8"/>
<rect x="232.7" y="645" width="11" height="56.5" fill="#111111"/>
<rect x="288.4" y="645" width="9.4" height="56.5" fill="#111111"/>
<rect x="321.4" y="645" width="30.8" height="56.5" fill="#111111"/>
<rect x="397.5" y="645" width="47.1" height="56.5" fill="#111111"/>
<rect x="500.5" y="645" width="16.8" height="56.5" fill="#111111"/>
<rect x="568.2" y="645" width="1.2" height="56.5" fill="#111111"/>
<rect x="573.9" y="645" width="60.1" height="56.5" fill="#111111"/>
<rect x="640.7" y="645" width="70.2" height="56.5" fill="#111111"/>
<rect x="723.3" y="645" width="1.8" height="56.5" fill="#111111"/>
<rect x="744.4" y="645" width="26.9" height="56.5" fill="#111111"/>
<line x1="142.5" y1="645" x2="142.5" y2="701.5" stroke="#d0d0d0" stroke-width="0.8"/>
<text x="98.2" y="680" font-size="18.5" text-anchor="end" fill="#1a1a1a" color="#1a1a1a">TGIF2</text>
<text x="781" y="655.2" font-size="18.6" fill="#1a1a1a" color="#1a1a1a">TGIF2</text>
<rect x="781" y="662.9" width="20.7" height="19.9" fill="#111111"/>
<rect x="781" y="682.8" width="20.7" height="19.6" fill="#B8B8B8"/>
<text x="810.8" y="678.6" font-size="18.6" fill="#1a1a1a" color="#1a1a1a">High</text>
<text x="810.8" y="700.2" font-size="18.6" fill="#1a1a1a" color="#1a1a1a">Low</text>
<line x1="995.9" y1="20.7" x2="995.9" y2="465.5" stroke="#EBEBEB" stroke-width="2.4"/>
<line x1="991.7" y1="465.3" x2="1412.3" y2="465.3" stroke="#EBEBEB" stroke-width="2.4"/>
<line x1="1037.5" y1="20.7" x2="1037.5" y2="465.5" stroke="#EBEBEB" stroke-width="1.3"/>
<line x1="991.7" y1="421.26" x2="1412.3" y2="421.26" stroke="#EBEBEB" stroke-width="1.3"/>
<line x1="1079.1" y1="20.7" x2="1079.1" y2="465.5" stroke="#EBEBEB" stroke-width="2.4"/>
<line x1="991.7" y1="377.22" x2="1412.3" y2="377.22" stroke="#EBEBEB" stroke-width="2.4"/>
<line x1="1120.7" y1="20.7" x2="1120.7" y2="465.5" stroke="#EBEBEB" stroke-width="1.3"/>
<line x1="991.7" y1="333.18" x2="1412.3" y2="333.18" stroke="#EBEBEB" stroke-width="1.3"/>
<line x1="1162.3" y1="20.7" x2="1162.3" y2="465.5" stroke="#EBEBEB" stroke-width="2.4"/>
<line x1="991.7" y1="289.14" x2="1412.3" y2="289.14" stroke="#EBEBEB" stroke-width="2.4"/>
<line x1="1203.9" y1="20.7" x2="1203.9" y2="465.5" stroke="#EBEBEB" stroke-width="1.3"/>
<line x1="991.7" y1="245.1" x2="1412.3" y2="245.1" stroke="#EBEBEB" stroke-width="1.3"/>
<line x1="1245.5" y1="20.7" x2="1245.5" y2="465.5" stroke="#EBEBEB" stroke-width="2.4"/>
<line x1="991.7" y1="201.06" x2="1412.3" y2="201.06" stroke="#EBEBEB" stroke-width="2.4"/>
<line x1="1287.1" y1="20.7" x2="1287.1" y2="465.5" stroke="#EBEBEB" stroke-width="1.3"/>
<line x1="991.7" y1="157.02" x2="1412.3" y2="157.02" stroke="#EBEBEB" stroke-width="1.3"/>
<line x1="1328.7" y1="20.7" x2="1328.7" y2="465.5" stroke="#EBEBEB" stroke-width="2.4"/>
<line x1="991.7" y1="112.98" x2="1412.3" y2="112.98" stroke="#EBEBEB" stroke-width="2.4"/>
<line x1="1370.3" y1="20.7" x2="1370.3" y2="465.5" stroke="#EBEBEB" stroke-width="1.3"/>
<line x1="991.7" y1="68.94" x2="1412.3" y2="68.94" stroke="#EBEBEB" stroke-width="1.3"/>
<line x1="1411.9" y1="20.7" x2="1411.9" y2="465.5" stroke="#EBEBEB" stroke-width="2.4"/>
<line x1="991.7" y1="24.9" x2="1412.3" y2="24.9" stroke="#EBEBEB" stroke-width="2.4"/>
<line x1="995.9" y1="465.3" x2="1411.9" y2="24.9" stroke="#7f7f7f" stroke-width="2" stroke-dasharray="9 9" stroke-dashoffset="-3"/>
<polyline points="995.9,465.3 1001.01,464.54 1001.74,458.67 1003.21,452.8 1004.68,446.93 1006.14,445.46 1008.34,442.52 1013.48,442.52 1013.48,441.06 1015.68,441.06 1015.68,430.78 1017.88,430.78 1017.88,423.45 1019.35,423.45 1019.35,416.84 1022.29,416.84 1022.29,411.71 1024.49,411.71 1024.49,407.3 1026.69,407.3 1026.69,404.37 1028.89,404.37 1028.89,401.43 1031.09,401.43 1031.09,397.03 1034.03,397.03 1034.03,392.63 1036.96,392.63 1036.96,391.89 1039.9,391.89 1039.9,387.49 1045.77,387.49 1045.77,377.95 1048.7,377.95 1048.7,354.47 1061.91,354.47 1061.91,348.6 1062.64,348.6 1062.64,344.2 1064.85,344.2 1064.85,339.79 1067.05,339.79 1067.05,337.59 1069.25,337.59 1069.25,334.66 1071.45,334.66 1071.45,332.46 1072.92,332.46 1072.92,329.52 1073.65,329.52 1073.65,324.39 1075.12,324.39 1075.12,314.85 1078.05,314.85 1078.05,306.04 1078.79,306.04 1078.79,300.9 1083.92,300.9 1083.92,294.3 1085.1,294.3 1085.1,290.63 1087.59,290.63 1087.59,286.23 1089.06,286.23 1089.06,285.2 1105.94,285.2 1105.94,270.82 1106.67,270.82 1106.67,267.88 1107.41,267.88 1107.41,263.48 1108.87,263.48 1108.87,258.34 1110.63,258.34 1110.63,253.94 1112.54,253.94 1112.54,252.47 1113.28,252.47 1113.57,243.8 1118.7,243.8 1118.7,238.67 1120.9,238.67 1120.9,228.39 1124.57,228.39 1124.57,223.99 1126.77,223.99 1126.77,218.86 1135.58,218.86 1135.58,215.19 1136.31,210.78 1137.05,204.91 1137.78,197.58 1139.25,188.77 1148.05,188.77 1148.05,181.43 1153.92,181.43 1153.92,179.23 1155.39,175.56 1161.26,175.56 1162.73,172.63 1162.73,171.16 1170.8,171.16 1170.8,160.89 1183.28,160.89 1183.28,156.48 1195.02,156.48 1195.75,150.61 1200,151.06 1202.31,151.06 1202.31,148.75 1205.38,148.75 1205.38,146.45 1206.92,146.45 1206.92,142.3 1216.14,142.3 1216.14,137.22 1222.29,137.22 1222.29,133.38 1224.6,133.38 1224.6,131.07 1226.9,131.07 1226.9,128 1233.82,128 1233.82,123.69 1249.2,123.69 1249.2,121.08 1252.27,121.08 1252.27,116.47 1253.81,116.47 1253.81,114.93 1259.96,114.93 1259.96,108.78 1264.57,108.78 1264.57,104.17 1269.95,104.17 1269.95,100.33 1272.26,100.33 1272.26,94.94 1276.1,94.94 1276.1,87.26 1277.64,87.26 1277.64,82.65 1279.18,82.65 1279.18,75.73 1286.09,75.73 1286.09,72.65 1288.4,72.65 1288.4,66.5 1300.7,66.5 1300.7,61.89 1302.24,61.89 1302.24,52.67 1309.16,52.67 1309.16,47.59 1331.45,47.59 1331.45,43.44 1349.13,43.44 1349.13,38.83 1371.42,38.83 1371.42,34.22 1381.41,34.22 1381.41,29.61 1391.41,29.61 1391.41,25.45 1411.9,25.45" fill="none" stroke="#4DBBD5" stroke-width="1.7" stroke-linejoin="miter"/>
<polyline points="995.9,465.3 997.34,464.54 997.34,458.67 999.54,458.67 999.54,430.78 1001.74,430.78 1001.74,421.98 1003.94,421.98 1003.94,418.31 1006.14,418.31 1006.14,416.11 1009.08,416.11 1009.08,395.56 1010.55,395.56 1010.55,389.69 1012.01,389.69 1012.01,388.22 1014.95,388.22 1014.95,386.76 1017.15,386.76 1017.15,384.56 1018.62,384.56 1018.62,380.89 1020.09,380.89 1020.09,375.75 1021.55,375.75 1021.55,372.08 1024.05,372.08 1024.05,342.73 1025.96,342.73 1025.96,328.79 1027.42,328.79 1027.42,316.31 1028.89,316.31 1028.89,310.44 1031.09,310.44 1031.09,304.57 1032.56,304.57 1032.56,295.03 1034.03,295.03 1034.03,292.83 1035.49,292.83 1035.49,290.63 1037.7,290.63 1037.7,283.29 1039.9,283.29 1039.9,281.09 1042.1,281.09 1042.1,274.49 1053.84,274.49 1053.84,271.55 1056.04,271.55 1056.04,268.62 1058.24,268.62 1058.24,267.88 1063.38,267.88 1063.38,250.27 1064.85,250.27 1064.85,248.81 1066.31,248.81 1065.87,236.47 1068.07,236.47 1068.07,233.53 1070.27,233.53 1070.27,223.26 1074.68,223.26 1074.68,219.59 1076.88,219.59 1076.88,215.19 1078.34,215.19 1078.34,212.99 1080.55,212.99 1080.55,210.78 1087.15,210.78 1087.15,197.58 1101.09,197.58 1101.09,194.64 1103.29,194.64 1103.29,185.1 1107.7,185.1 1107.7,181.43 1109.9,181.43 1109.9,180.7 1113.57,180.7 1113.57,179.23 1117.24,179.23 1117.24,175.56 1127.51,175.56 1127.51,171.89 1128.98,171.89 1128.98,167.49 1143.65,167.49 1143.65,165.29 1145.85,165.29 1145.85,162.35 1164.93,162.35 1164.93,159.42 1177.41,159.42 1177.41,157.95 1178.87,157.95 1178.87,149.15 1192.81,149.15 1192.81,146.94 1194.28,146.94 1194.28,144.01 1195.75,144.01 1195.75,141.07 1197.66,141.07 1197.66,124.93 1200,124.46 1202.31,124.46 1202.31,118.77 1204.61,118.77 1204.61,116.47 1207.69,116.47 1207.69,114.93 1223.06,114.93 1223.06,113.39 1226.14,113.39 1226.14,112.16 1233.05,112.16 1233.05,105.71 1237.67,105.71 1237.67,104.17 1246.12,104.17 1246.12,101.86 1248.43,101.86 1248.43,100.33 1251.5,100.33 1251.5,99.25 1256.11,99.25 1256.11,90.33 1259.19,90.33 1259.19,87.26 1261.5,87.26 1261.5,86.49 1273.03,86.49 1273.03,83.41 1275.33,83.41 1275.33,81.42 1287.63,81.42 1287.63,76.5 1289.94,76.5 1289.94,72.19 1294.09,72.19 1294.09,67.27 1296.09,67.27 1296.09,66.5 1313.77,66.5 1313.77,64.2 1315.3,64.2 1315.3,59.58 1331.45,59.58 1331.45,53.43 1334.52,53.43 1334.52,51.9 1338.37,51.9 1338.37,51.13 1362.96,51.13 1362.96,50.05 1369.11,50.05 1369.11,47.29 1376.03,47.29 1376.03,44.21 1379.11,44.21 1379.11,41.9 1384.49,41.9 1384.49,40.37 1390.64,40.37 1390.64,38.06 1392.17,38.06 1392.17,32.68 1399.86,32.68 1399.86,30.84 1411.9,30.84" fill="none" stroke="#E64B35" stroke-width="1.7" stroke-linejoin="miter"/>
<polyline points="995.9,465.3 1000.27,464.54 1000.27,460.14 1006.88,460.14 1006.88,439.59 1012.01,439.59 1012.01,401.43 1018.18,401.43 1018.18,345.37 1023.75,345.37 1023.75,335.39 1029.33,335.39 1029.33,295.77 1033.29,295.77 1033.29,294.3 1034.76,294.3 1034.76,291.36 1051.64,291.36 1051.64,285.49 1057.51,285.49 1057.51,283.73 1063.38,283.73 1063.38,253.94 1068.51,253.94 1068.51,246.6 1074.39,246.6 1073.21,243.8 1079.08,243.8 1079.08,237.2 1085.68,237.2 1085.68,218.86 1102.56,218.86 1102.56,207.11 1106.96,207.11 1106.96,205.65 1109.9,205.65 1109.9,204.91 1112.83,204.91 1112.83,199.78 1118.7,199.78 1118.7,196.84 1124.57,196.84 1124.57,193.91 1130.44,193.91 1130.44,190.97 1135.58,190.97 1135.58,187.3 1141.45,187.3 1141.45,179.96 1153.19,179.96 1153.19,177.76 1156.86,177.76 1156.86,175.56 1159.06,175.56 1159.06,171.16 1170.8,171.16 1170.8,160.89 1192.08,160.89 1192.08,159.42 1197.95,159.42 1197.95,155.75 1200,154.9 1203.84,154.9 1203.84,131.07 1209.22,131.07 1209.22,125.69 1219.99,125.69 1219.99,124.46 1226.9,124.46 1226.9,123.39 1232.29,123.39 1232.29,114.62 1243.82,114.62 1243.82,113.39 1259.96,113.39 1259.96,111.09 1265.34,111.09 1265.34,103.86 1270.72,103.86 1270.72,101.86 1278.41,101.86 1278.41,100.33 1288.4,100.33 1288.4,88.03 1299.93,88.03 1299.93,81.11 1305.31,81.11 1305.31,72.65 1316.07,72.65 1316.07,70.65 1322.22,70.65 1322.22,68.04 1328.37,68.04 1328.37,60.81 1332.98,60.81 1332.98,56.82 1344.52,56.82 1344.52,51.9 1361.43,51.9 1361.43,48.05 1366.81,48.05 1366.81,44.98 1372.19,44.98 1372.19,39.6 1375.26,39.6 1375.26,34.99 1389.1,34.99 1389.1,30.37 1399.86,30.37 1399.86,28.84 1411.9,28.84" fill="none" stroke="#00A087" stroke-width="1.9" stroke-linejoin="miter"/>
<rect x="991.7" y="20.7" width="420.6" height="444.8" fill="none" stroke="#000" stroke-width="1.7"/>
<line x1="983.5" y1="465.3" x2="991.7" y2="465.3" stroke="#000" stroke-width="1.7"/>
<text x="976.7" y="471.8" font-size="18.9" text-anchor="end" fill="#1a1a1a" color="#1a1a1a">0.0</text>
<line x1="995.9" y1="465.5" x2="995.9" y2="473.3" stroke="#000" stroke-width="1.7"/>
<text x="995.9" y="495.2" font-size="18.9" text-anchor="middle" fill="#1a1a1a" color="#1a1a1a">0.0</text>
<line x1="983.5" y1="377.22" x2="991.7" y2="377.22" stroke="#000" stroke-width="1.7"/>
<text x="976.7" y="383.72" font-size="18.9" text-anchor="end" fill="#1a1a1a" color="#1a1a1a">0.2</text>
<line x1="1079.1" y1="465.5" x2="1079.1" y2="473.3" stroke="#000" stroke-width="1.7"/>
<text x="1079.1" y="495.2" font-size="18.9" text-anchor="middle" fill="#1a1a1a" color="#1a1a1a">0.2</text>
<line x1="983.5" y1="289.14" x2="991.7" y2="289.14" stroke="#000" stroke-width="1.7"/>
<text x="976.7" y="295.64" font-size="18.9" text-anchor="end" fill="#1a1a1a" color="#1a1a1a">0.4</text>
<line x1="1162.3" y1="465.5" x2="1162.3" y2="473.3" stroke="#000" stroke-width="1.7"/>
<text x="1162.3" y="495.2" font-size="18.9" text-anchor="middle" fill="#1a1a1a" color="#1a1a1a">0.4</text>
<line x1="983.5" y1="201.06" x2="991.7" y2="201.06" stroke="#000" stroke-width="1.7"/>
<text x="976.7" y="207.56" font-size="18.9" text-anchor="end" fill="#1a1a1a" color="#1a1a1a">0.6</text>
<line x1="1245.5" y1="465.5" x2="1245.5" y2="473.3" stroke="#000" stroke-width="1.7"/>
<text x="1245.5" y="495.2" font-size="18.9" text-anchor="middle" fill="#1a1a1a" color="#1a1a1a">0.6</text>
<line x1="983.5" y1="112.98" x2="991.7" y2="112.98" stroke="#000" stroke-width="1.7"/>
<text x="976.7" y="119.48" font-size="18.9" text-anchor="end" fill="#1a1a1a" color="#1a1a1a">0.8</text>
<line x1="1328.7" y1="465.5" x2="1328.7" y2="473.3" stroke="#000" stroke-width="1.7"/>
<text x="1328.7" y="495.2" font-size="18.9" text-anchor="middle" fill="#1a1a1a" color="#1a1a1a">0.8</text>
<line x1="983.5" y1="24.9" x2="991.7" y2="24.9" stroke="#000" stroke-width="1.7"/>
<text x="976.7" y="31.4" font-size="18.9" text-anchor="end" fill="#1a1a1a" color="#1a1a1a">1.0</text>
<line x1="1411.9" y1="465.5" x2="1411.9" y2="473.3" stroke="#000" stroke-width="1.7"/>
<text x="1411.9" y="495.2" font-size="18.9" text-anchor="middle" fill="#1a1a1a" color="#1a1a1a">1.0</text>
<text x="1202" y="519.8" font-size="21.2" text-anchor="middle" fill="#1a1a1a" color="#1a1a1a">1−Specificity (FPR)</text>
<text x="0" y="0" font-size="21.2" text-anchor="middle" fill="#1a1a1a" color="#1a1a1a" transform="translate(938.5,243) rotate(-90)">Sensitivity (TPR)</text>
<text x="1201" y="389.4" font-size="18.6" fill="#1a1a1a" color="#1a1a1a">TGIF2</text>
<line x1="1202.5" y1="407.1" x2="1220" y2="407.1" stroke="#4DBBD5" stroke-width="1.7"/>
<text x="1230.8" y="413.1" font-size="18.35" fill="#1a1a1a" color="#1a1a1a">1−year (AUC = 0.653)</text>
<line x1="1202.5" y1="428.8" x2="1220" y2="428.8" stroke="#E64B35" stroke-width="1.7"/>
<text x="1230.8" y="434.8" font-size="18.35" fill="#1a1a1a" color="#1a1a1a">3−year (AUC = 0.715)</text>
<line x1="1202.5" y1="450.2" x2="1220" y2="450.2" stroke="#00A087" stroke-width="1.7"/>
<text x="1230.8" y="456.2" font-size="18.35" fill="#1a1a1a" color="#1a1a1a">5−year (AUC = 0.690)</text>
<line x1="55.8" y1="745.5" x2="1070.8" y2="745.5" stroke="#000" stroke-width="2.1"/>
<line x1="55.8" y1="770.2" x2="1070.8" y2="770.2" stroke="#000" stroke-width="2.1"/>
<line x1="55.8" y1="1115.8" x2="1070.8" y2="1115.8" stroke="#000" stroke-width="2"/>
<text x="177.8" y="762.6" font-size="17.9" text-anchor="middle" fill="#1a1a1a" color="#1a1a1a">Characteristics</text>
<text x="343.2" y="762.6" font-size="17.9" text-anchor="middle" fill="#1a1a1a" color="#1a1a1a">Total(N)</text>
<text x="528" y="762.6" font-size="17.9" text-anchor="middle" fill="#1a1a1a" color="#1a1a1a">HR(95% CI) Multivariate analysis</text>
<text x="906.2" y="762.6" font-size="17.9" text-anchor="middle" fill="#1a1a1a" color="#1a1a1a">P value Multivariate analysis</text>
<line x1="692.56" y1="770.2" x2="692.56" y2="1115.8" stroke="#000" stroke-width="1.8" stroke-dasharray="8.6 9.18" stroke-dashoffset="0.6"/>
<text x="177.8" y="801.8" font-size="17.9" text-anchor="middle" fill="#1a1a1a" color="#1a1a1a">Age</text>
<text x="342.2" y="801.8" font-size="17.9" text-anchor="middle" fill="#1a1a1a" color="#1a1a1a">698</text>
<text x="527.6" y="801.8" font-size="17.9" text-anchor="middle" fill="#1a1a1a" color="#1a1a1a">5.203 (3.291 − 8.224)</text>
<text x="905.8" y="801.8" font-size="17.9" text-anchor="middle" fill="#1a1a1a" color="#1a1a1a">&lt; 0.001</text>
<line x1="718.13" y1="803.7" x2="773.18" y2="803.7" stroke="#000" stroke-width="1.8"/>
<line x1="773.18" y1="800.9" x2="773.18" y2="806.5" stroke="#000" stroke-width="1.6"/>
<line x1="718.13" y1="800.9" x2="718.13" y2="806.5" stroke="#000" stroke-width="1.6"/>
<circle cx="739.47" cy="803.7" r="5" fill="#1E1EF0"/>
<text x="177.8" y="857.4" font-size="17.9" text-anchor="middle" fill="#1a1a1a" color="#1a1a1a">Gender</text>
<text x="342.2" y="857.4" font-size="17.9" text-anchor="middle" fill="#1a1a1a" color="#1a1a1a">698</text>
<text x="527.6" y="857.4" font-size="17.9" text-anchor="middle" fill="#1a1a1a" color="#1a1a1a">0.797 (0.549 − 1.158)</text>
<text x="905.8" y="857.4" font-size="17.9" text-anchor="middle" fill="#1a1a1a" color="#1a1a1a">0.233</text>
<line x1="687.53" y1="853.4" x2="694.32" y2="853.4" stroke="#000" stroke-width="1.8"/>
<line x1="694.32" y1="850.6" x2="694.32" y2="856.2" stroke="#000" stroke-width="1.6"/>
<line x1="687.53" y1="850.6" x2="687.53" y2="856.2" stroke="#000" stroke-width="1.6"/>
<circle cx="690.29" cy="853.4" r="5" fill="#1E1EF0"/>
<text x="177.8" y="913.2" font-size="17.9" text-anchor="middle" fill="#1a1a1a" color="#1a1a1a">1p/19q codeletion</text>
<text x="342.2" y="913.2" font-size="17.9" text-anchor="middle" fill="#1a1a1a" color="#1a1a1a">691</text>
<text x="527.6" y="913.2" font-size="17.9" text-anchor="middle" fill="#1a1a1a" color="#1a1a1a">0.490 (0.298 − 0.807)</text>
<text x="905.8" y="913.2" font-size="17.9" text-anchor="middle" fill="#1a1a1a" color="#1a1a1a">0.005</text>
<line x1="684.73" y1="915.1" x2="690.41" y2="915.1" stroke="#000" stroke-width="1.8"/>
<line x1="690.41" y1="912.3" x2="690.41" y2="917.9" stroke="#000" stroke-width="1.6"/>
<line x1="684.73" y1="912.3" x2="684.73" y2="917.9" stroke="#000" stroke-width="1.6"/>
<circle cx="686.87" cy="915.1" r="5" fill="#1E1EF0"/>
<text x="177.8" y="971.8" font-size="17.9" text-anchor="middle" fill="#1a1a1a" color="#1a1a1a">Histological type</text>
<text x="342.2" y="971.8" font-size="17.9" text-anchor="middle" fill="#1a1a1a" color="#1a1a1a">698</text>
<text x="527.6" y="971.8" font-size="17.9" text-anchor="middle" fill="#1a1a1a" color="#1a1a1a">4.885 (1.709 − 13.959)</text>
<text x="905.8" y="971.8" font-size="17.9" text-anchor="middle" fill="#1a1a1a" color="#1a1a1a">0.003</text>
<line x1="700.47" y1="967.8" x2="823.25" y2="967.8" stroke="#000" stroke-width="1.8"/>
<path d="M 817.25 964.2 L 824.25 967.8 L 817.25 971.4" fill="none" stroke="#000" stroke-width="1.6"/>
<line x1="824.25" y1="965" x2="824.25" y2="970.6" stroke="#000" stroke-width="1.6"/>
<line x1="700.47" y1="965" x2="700.47" y2="970.6" stroke="#000" stroke-width="1.6"/>
<circle cx="735.92" cy="967.8" r="5" fill="#1E1EF0"/>
<text x="177.8" y="1027.2" font-size="17.9" text-anchor="middle" fill="#1a1a1a" color="#1a1a1a">Primary therapy outcome</text>
<text x="342.2" y="1027.2" font-size="17.9" text-anchor="middle" fill="#1a1a1a" color="#1a1a1a">464</text>
<text x="527.6" y="1027.2" font-size="17.9" text-anchor="middle" fill="#1a1a1a" color="#1a1a1a">0.215 (0.122 − 0.378)</text>
<text x="905.8" y="1027.2" font-size="17.9" text-anchor="middle" fill="#1a1a1a" color="#1a1a1a">&lt; 0.001</text>
<line x1="682.76" y1="1020.3" x2="685.62" y2="1020.3" stroke="#000" stroke-width="1.8"/>
<line x1="685.62" y1="1017.5" x2="685.62" y2="1023.1" stroke="#000" stroke-width="1.6"/>
<line x1="682.76" y1="1017.5" x2="682.76" y2="1023.1" stroke="#000" stroke-width="1.6"/>
<circle cx="683.8" cy="1020.3" r="5" fill="#1E1EF0"/>
<text x="177.8" y="1092.2" font-size="17.9" text-anchor="middle" fill="#1a1a1a" color="#1a1a1a">TGIF2</text>
<text x="342.2" y="1092.2" font-size="17.9" text-anchor="middle" fill="#1a1a1a" color="#1a1a1a">698</text>
<text x="527.6" y="1092.2" font-size="17.9" text-anchor="middle" fill="#1a1a1a" color="#1a1a1a">2.366 (1.620 − 3.455)</text>
<text x="905.8" y="1092.2" font-size="17.9" text-anchor="middle" fill="#1a1a1a" color="#1a1a1a">&lt; 0.001</text>
<line x1="699.48" y1="1084.7" x2="719.96" y2="1084.7" stroke="#000" stroke-width="1.8"/>
<line x1="719.96" y1="1081.9" x2="719.96" y2="1087.5" stroke="#000" stroke-width="1.6"/>
<line x1="699.48" y1="1081.9" x2="699.48" y2="1087.5" stroke="#000" stroke-width="1.6"/>
<circle cx="707.8" cy="1084.7" r="5" fill="#1E1EF0"/>
<rect x="675.4" y="1114.6" width="1.2" height="2.4" fill="#ffffff" opacity="0.6"/>
<line x1="681.4" y1="1115.8" x2="681.4" y2="1124.4" stroke="#000" stroke-width="1.6"/>
<text x="681.4" y="1138.7" font-size="14.8" text-anchor="middle" fill="#1a1a1a" color="#1a1a1a">0</text>
<line x1="737.2" y1="1115.8" x2="737.2" y2="1124.4" stroke="#000" stroke-width="1.6"/>
<text x="737.2" y="1138.7" font-size="14.8" text-anchor="middle" fill="#1a1a1a" color="#1a1a1a">5</text>
<line x1="793" y1="1115.8" x2="793" y2="1124.4" stroke="#000" stroke-width="1.6"/>
<text x="793" y="1138.7" font-size="14.8" text-anchor="middle" fill="#1a1a1a" color="#1a1a1a">10</text>
<line x1="293.2" y1="1212.2" x2="293.2" y2="1453.8" stroke="#CDCDCD" stroke-width="1.8"/>
<line x1="303.46" y1="1212.2" x2="303.46" y2="1453.8" stroke="#EDEDED" stroke-width="1.4"/>
<line x1="313.73" y1="1212.2" x2="313.73" y2="1453.8" stroke="#EDEDED" stroke-width="1.4"/>
<line x1="324" y1="1212.2" x2="324" y2="1453.8" stroke="#EDEDED" stroke-width="1.4"/>
<line x1="334.26" y1="1212.2" x2="334.26" y2="1453.8" stroke="#CDCDCD" stroke-width="1.8"/>
<line x1="344.52" y1="1212.2" x2="344.52" y2="1453.8" stroke="#EDEDED" stroke-width="1.4"/>
<line x1="354.79" y1="1212.2" x2="354.79" y2="1453.8" stroke="#EDEDED" stroke-width="1.4"/>
<line x1="365.06" y1="1212.2" x2="365.06" y2="1453.8" stroke="#EDEDED" stroke-width="1.4"/>
<line x1="375.32" y1="1212.2" x2="375.32" y2="1453.8" stroke="#CDCDCD" stroke-width="1.8"/>
<line x1="385.58" y1="1212.2" x2="385.58" y2="1453.8" stroke="#EDEDED" stroke-width="1.4"/>
<line x1="395.85" y1="1212.2" x2="395.85" y2="1453.8" stroke="#EDEDED" stroke-width="1.4"/>
<line x1="406.12" y1="1212.2" x2="406.12" y2="1453.8" stroke="#EDEDED" stroke-width="1.4"/>
<line x1="416.38" y1="1212.2" x2="416.38" y2="1453.8" stroke="#CDCDCD" stroke-width="1.8"/>
<line x1="426.64" y1="1212.2" x2="426.64" y2="1453.8" stroke="#EDEDED" stroke-width="1.4"/>
<line x1="436.91" y1="1212.2" x2="436.91" y2="1453.8" stroke="#EDEDED" stroke-width="1.4"/>
<line x1="447.17" y1="1212.2" x2="447.17" y2="1453.8" stroke="#EDEDED" stroke-width="1.4"/>
<line x1="457.44" y1="1212.2" x2="457.44" y2="1453.8" stroke="#CDCDCD" stroke-width="1.8"/>
<line x1="467.7" y1="1212.2" x2="467.7" y2="1453.8" stroke="#EDEDED" stroke-width="1.4"/>
<line x1="477.97" y1="1212.2" x2="477.97" y2="1453.8" stroke="#EDEDED" stroke-width="1.4"/>
<line x1="488.24" y1="1212.2" x2="488.24" y2="1453.8" stroke="#EDEDED" stroke-width="1.4"/>
<line x1="498.5" y1="1212.2" x2="498.5" y2="1453.8" stroke="#CDCDCD" stroke-width="1.8"/>
<line x1="508.76" y1="1212.2" x2="508.76" y2="1453.8" stroke="#EDEDED" stroke-width="1.4"/>
<line x1="519.03" y1="1212.2" x2="519.03" y2="1453.8" stroke="#EDEDED" stroke-width="1.4"/>
<line x1="529.29" y1="1212.2" x2="529.29" y2="1453.8" stroke="#EDEDED" stroke-width="1.4"/>
<line x1="539.56" y1="1212.2" x2="539.56" y2="1453.8" stroke="#CDCDCD" stroke-width="1.8"/>
<line x1="549.83" y1="1212.2" x2="549.83" y2="1453.8" stroke="#EDEDED" stroke-width="1.4"/>
<line x1="560.09" y1="1212.2" x2="560.09" y2="1453.8" stroke="#EDEDED" stroke-width="1.4"/>
<line x1="570.36" y1="1212.2" x2="570.36" y2="1453.8" stroke="#EDEDED" stroke-width="1.4"/>
<line x1="580.62" y1="1212.2" x2="580.62" y2="1453.8" stroke="#CDCDCD" stroke-width="1.8"/>
<line x1="590.88" y1="1212.2" x2="590.88" y2="1453.8" stroke="#EDEDED" stroke-width="1.4"/>
<line x1="601.15" y1="1212.2" x2="601.15" y2="1453.8" stroke="#EDEDED" stroke-width="1.4"/>
<line x1="611.41" y1="1212.2" x2="611.41" y2="1453.8" stroke="#EDEDED" stroke-width="1.4"/>
<line x1="621.68" y1="1212.2" x2="621.68" y2="1453.8" stroke="#CDCDCD" stroke-width="1.8"/>
<line x1="631.94" y1="1212.2" x2="631.94" y2="1453.8" stroke="#EDEDED" stroke-width="1.4"/>
<line x1="642.21" y1="1212.2" x2="642.21" y2="1453.8" stroke="#EDEDED" stroke-width="1.4"/>
<line x1="652.47" y1="1212.2" x2="652.47" y2="1453.8" stroke="#EDEDED" stroke-width="1.4"/>
<line x1="662.74" y1="1212.2" x2="662.74" y2="1453.8" stroke="#CDCDCD" stroke-width="1.8"/>
<line x1="673" y1="1212.2" x2="673" y2="1453.8" stroke="#EDEDED" stroke-width="1.4"/>
<line x1="683.27" y1="1212.2" x2="683.27" y2="1453.8" stroke="#EDEDED" stroke-width="1.4"/>
<line x1="693.53" y1="1212.2" x2="693.53" y2="1453.8" stroke="#EDEDED" stroke-width="1.4"/>
<line x1="703.8" y1="1212.2" x2="703.8" y2="1453.8" stroke="#CDCDCD" stroke-width="1.8"/>
<line x1="293.2" y1="1212.2" x2="703.8" y2="1212.2" stroke="#000" stroke-width="2"/>
<line x1="293.2" y1="1212.2" x2="293.2" y2="1204.5" stroke="#000" stroke-width="2"/>
<line x1="303.46" y1="1212.2" x2="303.46" y2="1207.6" stroke="#000" stroke-width="2"/>
<line x1="313.73" y1="1212.2" x2="313.73" y2="1207.6" stroke="#000" stroke-width="2"/>
<line x1="324" y1="1212.2" x2="324" y2="1207.6" stroke="#000" stroke-width="2"/>
<line x1="334.26" y1="1212.2" x2="334.26" y2="1204.5" stroke="#000" stroke-width="2"/>
<line x1="344.52" y1="1212.2" x2="344.52" y2="1207.6" stroke="#000" stroke-width="2"/>
<line x1="354.79" y1="1212.2" x2="354.79" y2="1207.6" stroke="#000" stroke-width="2"/>
<line x1="365.06" y1="1212.2" x2="365.06" y2="1207.6" stroke="#000" stroke-width="2"/>
<line x1="375.32" y1="1212.2" x2="375.32" y2="1204.5" stroke="#000" stroke-width="2"/>
<line x1="385.58" y1="1212.2" x2="385.58" y2="1207.6" stroke="#000" stroke-width="2"/>
<line x1="395.85" y1="1212.2" x2="395.85" y2="1207.6" stroke="#000" stroke-width="2"/>
<line x1="406.12" y1="1212.2" x2="406.12" y2="1207.6" stroke="#000" stroke-width="2"/>
<line x1="416.38" y1="1212.2" x2="416.38" y2="1204.5" stroke="#000" stroke-width="2"/>
<line x1="426.64" y1="1212.2" x2="426.64" y2="1207.6" stroke="#000" stroke-width="2"/>
<line x1="436.91" y1="1212.2" x2="436.91" y2="1207.6" stroke="#000" stroke-width="2"/>
<line x1="447.17" y1="1212.2" x2="447.17" y2="1207.6" stroke="#000" stroke-width="2"/>
<line x1="457.44" y1="1212.2" x2="457.44" y2="1204.5" stroke="#000" stroke-width="2"/>
<line x1="467.7" y1="1212.2" x2="467.7" y2="1207.6" stroke="#000" stroke-width="2"/>
<line x1="477.97" y1="1212.2" x2="477.97" y2="1207.6" stroke="#000" stroke-width="2"/>
<line x1="488.24" y1="1212.2" x2="488.24" y2="1207.6" stroke="#000" stroke-width="2"/>
<line x1="498.5" y1="1212.2" x2="498.5" y2="1204.5" stroke="#000" stroke-width="2"/>
<line x1="508.76" y1="1212.2" x2="508.76" y2="1207.6" stroke="#000" stroke-width="2"/>
<line x1="519.03" y1="1212.2" x2="519.03" y2="1207.6" stroke="#000" stroke-width="2"/>
<line x1="529.29" y1="1212.2" x2="529.29" y2="1207.6" stroke="#000" stroke-width="2"/>
<line x1="539.56" y1="1212.2" x2="539.56" y2="1204.5" stroke="#000" stroke-width="2"/>
<line x1="549.83" y1="1212.2" x2="549.83" y2="1207.6" stroke="#000" stroke-width="2"/>
<line x1="560.09" y1="1212.2" x2="560.09" y2="1207.6" stroke="#000" stroke-width="2"/>
<line x1="570.36" y1="1212.2" x2="570.36" y2="1207.6" stroke="#000" stroke-width="2"/>
<line x1="580.62" y1="1212.2" x2="580.62" y2="1204.5" stroke="#000" stroke-width="2"/>
<line x1="590.88" y1="1212.2" x2="590.88" y2="1207.6" stroke="#000" stroke-width="2"/>
<line x1="601.15" y1="1212.2" x2="601.15" y2="1207.6" stroke="#000" stroke-width="2"/>
<line x1="611.41" y1="1212.2" x2="611.41" y2="1207.6" stroke="#000" stroke-width="2"/>
<line x1="621.68" y1="1212.2" x2="621.68" y2="1204.5" stroke="#000" stroke-width="2"/>
<line x1="631.94" y1="1212.2" x2="631.94" y2="1207.6" stroke="#000" stroke-width="2"/>
<line x1="642.21" y1="1212.2" x2="642.21" y2="1207.6" stroke="#000" stroke-width="2"/>
<line x1="652.47" y1="1212.2" x2="652.47" y2="1207.6" stroke="#000" stroke-width="2"/>
<line x1="662.74" y1="1212.2" x2="662.74" y2="1204.5" stroke="#000" stroke-width="2"/>
<line x1="673" y1="1212.2" x2="673" y2="1207.6" stroke="#000" stroke-width="2"/>
<line x1="683.27" y1="1212.2" x2="683.27" y2="1207.6" stroke="#000" stroke-width="2"/>
<line x1="693.53" y1="1212.2" x2="693.53" y2="1207.6" stroke="#000" stroke-width="2"/>
<line x1="703.8" y1="1212.2" x2="703.8" y2="1204.5" stroke="#000" stroke-width="2"/>
<text x="293.2" y="1201.3" font-size="18.6" text-anchor="middle" fill="#1a1a1a" color="#1a1a1a">0</text>
<text x="375.32" y="1201.3" font-size="18.6" text-anchor="middle" fill="#1a1a1a" color="#1a1a1a">20</text>
<text x="457.44" y="1201.3" font-size="18.6" text-anchor="middle" fill="#1a1a1a" color="#1a1a1a">40</text>
<text x="539.56" y="1201.3" font-size="18.6" text-anchor="middle" fill="#1a1a1a" color="#1a1a1a">60</text>
<text x="621.68" y="1201.3" font-size="18.6" text-anchor="middle" fill="#1a1a1a" color="#1a1a1a">80</text>
<text x="703.8" y="1201.3" font-size="18.6" text-anchor="middle" fill="#1a1a1a" color="#1a1a1a">100</text>
<text x="47.1" y="1219.8" font-size="21.2" fill="#1a1a1a" color="#1a1a1a">Points</text>
<text x="47.1" y="1265.5" font-size="21.2" fill="#1a1a1a" color="#1a1a1a">Age</text>
<text x="47.1" y="1314.1" font-size="21.2" fill="#1a1a1a" color="#1a1a1a">1p/19q codeletion</text>
<text x="47.1" y="1361.9" font-size="21.2" fill="#1a1a1a" color="#1a1a1a">Histological type</text>
<text x="47.1" y="1409.7" font-size="21.2" fill="#1a1a1a" color="#1a1a1a">Primary therapy outcome</text>
<text x="47.1" y="1460.1" font-size="21.2" fill="#1a1a1a" color="#1a1a1a">TGIF2</text>
<text x="47.1" y="1508.7" font-size="21.2" fill="#1a1a1a" color="#1a1a1a">Total Points</text>
<text x="47.1" y="1557" font-size="21.2" fill="#1a1a1a" color="#1a1a1a">Linear Predictor</text>
<text x="47.1" y="1602.6" font-size="21.2" fill="#1a1a1a" color="#1a1a1a">1-year Survival Probability</text>
<text x="47.1" y="1651.3" font-size="21.2" fill="#1a1a1a" color="#1a1a1a">3-year Survival Probability</text>
<text x="47.1" y="1699.4" font-size="21.2" fill="#1a1a1a" color="#1a1a1a">5-year Survival Probability</text>
<line x1="293.2" y1="1259.8" x2="703.8" y2="1259.8" stroke="#000" stroke-width="2"/>
<line x1="293.2" y1="1258.9" x2="293.2" y2="1268.1" stroke="#000" stroke-width="2"/>
<line x1="703.8" y1="1260.7" x2="703.8" y2="1251.5" stroke="#000" stroke-width="2"/>
<text x="293.2" y="1283.6" font-size="18.6" text-anchor="middle" fill="#1a1a1a" color="#1a1a1a">&lt;= 60</text>
<text x="703.8" y="1249.2" font-size="18.6" text-anchor="middle" fill="#1a1a1a" color="#1a1a1a">&gt; 60</text>
<line x1="293.2" y1="1308.8" x2="464.83" y2="1308.8" stroke="#000" stroke-width="2"/>
<line x1="293.2" y1="1307.9" x2="293.2" y2="1317.1" stroke="#000" stroke-width="2"/>
<line x1="464.83" y1="1309.7" x2="464.83" y2="1300.5" stroke="#000" stroke-width="2"/>
<text x="293.2" y="1331.9" font-size="18.6" text-anchor="middle" fill="#1a1a1a" color="#1a1a1a">Codel</text>
<text x="464.83" y="1297.7" font-size="18.6" text-anchor="middle" fill="#1a1a1a" color="#1a1a1a">Non-codel</text>
<line x1="293.2" y1="1356.6" x2="698.46" y2="1356.6" stroke="#000" stroke-width="2"/>
<line x1="293.2" y1="1355.7" x2="293.2" y2="1364.9" stroke="#000" stroke-width="2"/>
<line x1="698.46" y1="1357.5" x2="698.46" y2="1348.3" stroke="#000" stroke-width="2"/>
<text x="293.2" y="1379.7" font-size="18.4" text-anchor="middle" fill="#1a1a1a" color="#1a1a1a">Astrocytoma&amp;Oligoastrocytoma&amp;Oligodendroglioma</text>
<text x="698.46" y="1346" font-size="18.6" text-anchor="middle" fill="#1a1a1a" color="#1a1a1a">Glioblastoma</text>
<line x1="293.2" y1="1405.2" x2="660.28" y2="1405.2" stroke="#000" stroke-width="2"/>
<line x1="293.2" y1="1404.3" x2="293.2" y2="1413.5" stroke="#000" stroke-width="2"/>
<line x1="660.28" y1="1406.1" x2="660.28" y2="1396.9" stroke="#000" stroke-width="2"/>
<text x="293.2" y="1428.3" font-size="18.6" text-anchor="middle" fill="#1a1a1a" color="#1a1a1a">PR&amp;CR</text>
<text x="660.28" y="1393.8" font-size="18.6" text-anchor="middle" fill="#1a1a1a" color="#1a1a1a">PD&amp;SD</text>
<line x1="293.2" y1="1453.2" x2="501.78" y2="1453.2" stroke="#000" stroke-width="2"/>
<line x1="293.2" y1="1452.3" x2="293.2" y2="1461.5" stroke="#000" stroke-width="2"/>
<line x1="501.78" y1="1454.1" x2="501.78" y2="1444.9" stroke="#000" stroke-width="2"/>
<text x="293.2" y="1476.1" font-size="18.6" text-anchor="middle" fill="#1a1a1a" color="#1a1a1a">Low</text>
<text x="501.78" y="1442.4" font-size="18.6" text-anchor="middle" fill="#1a1a1a" color="#1a1a1a">High</text>
<line x1="293.4" y1="1501" x2="703.26" y2="1501" stroke="#000" stroke-width="2"/>
<line x1="293.4" y1="1500.1" x2="293.4" y2="1509.3" stroke="#000" stroke-width="2"/>
<line x1="302.51" y1="1500.1" x2="302.51" y2="1505.9" stroke="#000" stroke-width="2"/>
<line x1="311.62" y1="1500.1" x2="311.62" y2="1505.9" stroke="#000" stroke-width="2"/>
<line x1="320.72" y1="1500.1" x2="320.72" y2="1505.9" stroke="#000" stroke-width="2"/>
<line x1="329.83" y1="1500.1" x2="329.83" y2="1505.9" stroke="#000" stroke-width="2"/>
<line x1="338.94" y1="1500.1" x2="338.94" y2="1509.3" stroke="#000" stroke-width="2"/>
<line x1="348.05" y1="1500.1" x2="348.05" y2="1505.9" stroke="#000" stroke-width="2"/>
<line x1="357.16" y1="1500.1" x2="357.16" y2="1505.9" stroke="#000" stroke-width="2"/>
<line x1="366.26" y1="1500.1" x2="366.26" y2="1505.9" stroke="#000" stroke-width="2"/>
<line x1="375.37" y1="1500.1" x2="375.37" y2="1505.9" stroke="#000" stroke-width="2"/>
<line x1="384.48" y1="1500.1" x2="384.48" y2="1509.3" stroke="#000" stroke-width="2"/>
<line x1="393.59" y1="1500.1" x2="393.59" y2="1505.9" stroke="#000" stroke-width="2"/>
<line x1="402.7" y1="1500.1" x2="402.7" y2="1505.9" stroke="#000" stroke-width="2"/>
<line x1="411.8" y1="1500.1" x2="411.8" y2="1505.9" stroke="#000" stroke-width="2"/>
<line x1="420.91" y1="1500.1" x2="420.91" y2="1505.9" stroke="#000" stroke-width="2"/>
<line x1="430.02" y1="1500.1" x2="430.02" y2="1509.3" stroke="#000" stroke-width="2"/>
<line x1="439.13" y1="1500.1" x2="439.13" y2="1505.9" stroke="#000" stroke-width="2"/>
<line x1="448.24" y1="1500.1" x2="448.24" y2="1505.9" stroke="#000" stroke-width="2"/>
<line x1="457.34" y1="1500.1" x2="457.34" y2="1505.9" stroke="#000" stroke-width="2"/>
<line x1="466.45" y1="1500.1" x2="466.45" y2="1505.9" stroke="#000" stroke-width="2"/>
<line x1="475.56" y1="1500.1" x2="475.56" y2="1509.3" stroke="#000" stroke-width="2"/>
<line x1="484.67" y1="1500.1" x2="484.67" y2="1505.9" stroke="#000" stroke-width="2"/>
<line x1="493.78" y1="1500.1" x2="493.78" y2="1505.9" stroke="#000" stroke-width="2"/>
<line x1="502.88" y1="1500.1" x2="502.88" y2="1505.9" stroke="#000" stroke-width="2"/>
<line x1="511.99" y1="1500.1" x2="511.99" y2="1505.9" stroke="#000" stroke-width="2"/>
<line x1="521.1" y1="1500.1" x2="521.1" y2="1509.3" stroke="#000" stroke-width="2"/>
<line x1="530.21" y1="1500.1" x2="530.21" y2="1505.9" stroke="#000" stroke-width="2"/>
<line x1="539.32" y1="1500.1" x2="539.32" y2="1505.9" stroke="#000" stroke-width="2"/>
<line x1="548.42" y1="1500.1" x2="548.42" y2="1505.9" stroke="#000" stroke-width="2"/>
<line x1="557.53" y1="1500.1" x2="557.53" y2="1505.9" stroke="#000" stroke-width="2"/>
<line x1="566.64" y1="1500.1" x2="566.64" y2="1509.3" stroke="#000" stroke-width="2"/>
<line x1="575.75" y1="1500.1" x2="575.75" y2="1505.9" stroke="#000" stroke-width="2"/>
<line x1="584.86" y1="1500.1" x2="584.86" y2="1505.9" stroke="#000" stroke-width="2"/>
<line x1="593.96" y1="1500.1" x2="593.96" y2="1505.9" stroke="#000" stroke-width="2"/>
<line x1="603.07" y1="1500.1" x2="603.07" y2="1505.9" stroke="#000" stroke-width="2"/>
<line x1="612.18" y1="1500.1" x2="612.18" y2="1509.3" stroke="#000" stroke-width="2"/>
<line x1="621.29" y1="1500.1" x2="621.29" y2="1505.9" stroke="#000" stroke-width="2"/>
<line x1="630.4" y1="1500.1" x2="630.4" y2="1505.9" stroke="#000" stroke-width="2"/>
<line x1="639.5" y1="1500.1" x2="639.5" y2="1505.9" stroke="#000" stroke-width="2"/>
<line x1="648.61" y1="1500.1" x2="648.61" y2="1505.9" stroke="#000" stroke-width="2"/>
<line x1="657.72" y1="1500.1" x2="657.72" y2="1509.3" stroke="#000" stroke-width="2"/>
<line x1="666.83" y1="1500.1" x2="666.83" y2="1505.9" stroke="#000" stroke-width="2"/>
<line x1="675.94" y1="1500.1" x2="675.94" y2="1505.9" stroke="#000" stroke-width="2"/>
<line x1="685.04" y1="1500.1" x2="685.04" y2="1505.9" stroke="#000" stroke-width="2"/>
<line x1="694.15" y1="1500.1" x2="694.15" y2="1505.9" stroke="#000" stroke-width="2"/>
<line x1="703.26" y1="1500.1" x2="703.26" y2="1509.3" stroke="#000" stroke-width="2"/>
<text x="293.4" y="1525" font-size="18.6" text-anchor="middle" fill="#1a1a1a" color="#1a1a1a">0</text>
<text x="384.48" y="1525" font-size="18.6" text-anchor="middle" fill="#1a1a1a" color="#1a1a1a">100</text>
<text x="475.56" y="1525" font-size="18.6" text-anchor="middle" fill="#1a1a1a" color="#1a1a1a">200</text>
<text x="566.64" y="1525" font-size="18.6" text-anchor="middle" fill="#1a1a1a" color="#1a1a1a">300</text>
<text x="657.72" y="1525" font-size="18.6" text-anchor="middle" fill="#1a1a1a" color="#1a1a1a">400</text>
<line x1="288.6" y1="1549.5" x2="665.2" y2="1549.5" stroke="#000" stroke-width="2"/>
<line x1="288.6" y1="1548.6" x2="288.6" y2="1557.5" stroke="#000" stroke-width="2"/>
<line x1="302.05" y1="1548.6" x2="302.05" y2="1554.2" stroke="#000" stroke-width="2"/>
<line x1="315.5" y1="1548.6" x2="315.5" y2="1557.5" stroke="#000" stroke-width="2"/>
<line x1="328.95" y1="1548.6" x2="328.95" y2="1554.2" stroke="#000" stroke-width="2"/>
<line x1="342.4" y1="1548.6" x2="342.4" y2="1557.5" stroke="#000" stroke-width="2"/>
<line x1="355.85" y1="1548.6" x2="355.85" y2="1554.2" stroke="#000" stroke-width="2"/>
<line x1="369.3" y1="1548.6" x2="369.3" y2="1557.5" stroke="#000" stroke-width="2"/>
<line x1="382.75" y1="1548.6" x2="382.75" y2="1554.2" stroke="#000" stroke-width="2"/>
<line x1="396.2" y1="1548.6" x2="396.2" y2="1557.5" stroke="#000" stroke-width="2"/>
<line x1="409.65" y1="1548.6" x2="409.65" y2="1554.2" stroke="#000" stroke-width="2"/>
<line x1="423.1" y1="1548.6" x2="423.1" y2="1557.5" stroke="#000" stroke-width="2"/>
<line x1="436.55" y1="1548.6" x2="436.55" y2="1554.2" stroke="#000" stroke-width="2"/>
<line x1="450" y1="1548.6" x2="450" y2="1557.5" stroke="#000" stroke-width="2"/>
<line x1="463.45" y1="1548.6" x2="463.45" y2="1554.2" stroke="#000" stroke-width="2"/>
<line x1="476.9" y1="1548.6" x2="476.9" y2="1557.5" stroke="#000" stroke-width="2"/>
<line x1="490.35" y1="1548.6" x2="490.35" y2="1554.2" stroke="#000" stroke-width="2"/>
<line x1="503.8" y1="1548.6" x2="503.8" y2="1557.5" stroke="#000" stroke-width="2"/>
<line x1="517.25" y1="1548.6" x2="517.25" y2="1554.2" stroke="#000" stroke-width="2"/>
<line x1="530.7" y1="1548.6" x2="530.7" y2="1557.5" stroke="#000" stroke-width="2"/>
<line x1="544.15" y1="1548.6" x2="544.15" y2="1554.2" stroke="#000" stroke-width="2"/>
<line x1="557.6" y1="1548.6" x2="557.6" y2="1557.5" stroke="#000" stroke-width="2"/>
<line x1="571.05" y1="1548.6" x2="571.05" y2="1554.2" stroke="#000" stroke-width="2"/>
<line x1="584.5" y1="1548.6" x2="584.5" y2="1557.5" stroke="#000" stroke-width="2"/>
<line x1="597.95" y1="1548.6" x2="597.95" y2="1554.2" stroke="#000" stroke-width="2"/>
<line x1="611.4" y1="1548.6" x2="611.4" y2="1557.5" stroke="#000" stroke-width="2"/>
<line x1="624.85" y1="1548.6" x2="624.85" y2="1554.2" stroke="#000" stroke-width="2"/>
<line x1="638.3" y1="1548.6" x2="638.3" y2="1557.5" stroke="#000" stroke-width="2"/>
<line x1="651.75" y1="1548.6" x2="651.75" y2="1554.2" stroke="#000" stroke-width="2"/>
<line x1="665.2" y1="1548.6" x2="665.2" y2="1557.5" stroke="#000" stroke-width="2"/>
<text x="288.6" y="1573.2" font-size="18.6" text-anchor="middle" fill="#1a1a1a" color="#1a1a1a">-2</text>
<text x="342.4" y="1573.2" font-size="18.6" text-anchor="middle" fill="#1a1a1a" color="#1a1a1a">-1</text>
<text x="396.2" y="1573.2" font-size="18.6" text-anchor="middle" fill="#1a1a1a" color="#1a1a1a">0</text>
<text x="450" y="1573.2" font-size="18.6" text-anchor="middle" fill="#1a1a1a" color="#1a1a1a">1</text>
<text x="503.8" y="1573.2" font-size="18.6" text-anchor="middle" fill="#1a1a1a" color="#1a1a1a">2</text>
<text x="557.6" y="1573.2" font-size="18.6" text-anchor="middle" fill="#1a1a1a" color="#1a1a1a">3</text>
<text x="611.4" y="1573.2" font-size="18.6" text-anchor="middle" fill="#1a1a1a" color="#1a1a1a">4</text>
<text x="665.2" y="1573.2" font-size="18.6" text-anchor="middle" fill="#1a1a1a" color="#1a1a1a">5</text>
<line x1="519" y1="1597.3" x2="625.6" y2="1597.3" stroke="#000" stroke-width="2"/>
<line x1="519" y1="1596.4" x2="519" y2="1605.6" stroke="#000" stroke-width="2"/>
<text x="519" y="1621.2" font-size="18.6" text-anchor="middle" fill="#1a1a1a" color="#1a1a1a">0.8</text>
<line x1="563.8" y1="1596.4" x2="563.8" y2="1605.6" stroke="#000" stroke-width="2"/>
<text x="563.8" y="1621.2" font-size="18.6" text-anchor="middle" fill="#1a1a1a" color="#1a1a1a">0.6</text>
<line x1="595.2" y1="1596.4" x2="595.2" y2="1605.6" stroke="#000" stroke-width="2"/>
<text x="595.2" y="1621.2" font-size="18.6" text-anchor="middle" fill="#1a1a1a" color="#1a1a1a">0.4</text>
<line x1="625.6" y1="1596.4" x2="625.6" y2="1605.6" stroke="#000" stroke-width="2"/>
<text x="625.6" y="1621.2" font-size="18.6" text-anchor="middle" fill="#1a1a1a" color="#1a1a1a">0.2</text>
<line x1="414.6" y1="1645.6" x2="521.1" y2="1645.6" stroke="#000" stroke-width="2"/>
<line x1="414.6" y1="1644.7" x2="414.6" y2="1653.9" stroke="#000" stroke-width="2"/>
<text x="414.6" y="1669.3" font-size="18.6" text-anchor="middle" fill="#1a1a1a" color="#1a1a1a">0.8</text>
<line x1="459.4" y1="1644.7" x2="459.4" y2="1653.9" stroke="#000" stroke-width="2"/>
<text x="459.4" y="1669.3" font-size="18.6" text-anchor="middle" fill="#1a1a1a" color="#1a1a1a">0.6</text>
<line x1="490.8" y1="1644.7" x2="490.8" y2="1653.9" stroke="#000" stroke-width="2"/>
<text x="490.8" y="1669.3" font-size="18.6" text-anchor="middle" fill="#1a1a1a" color="#1a1a1a">0.4</text>
<line x1="521.1" y1="1644.7" x2="521.1" y2="1653.9" stroke="#000" stroke-width="2"/>
<text x="521.1" y="1669.3" font-size="18.6" text-anchor="middle" fill="#1a1a1a" color="#1a1a1a">0.2</text>
<line x1="378.8" y1="1693.7" x2="485.8" y2="1693.7" stroke="#000" stroke-width="2"/>
<line x1="378.8" y1="1692.8" x2="378.8" y2="1702" stroke="#000" stroke-width="2"/>
<text x="378.8" y="1717.6" font-size="18.6" text-anchor="middle" fill="#1a1a1a" color="#1a1a1a">0.8</text>
<line x1="423.7" y1="1692.8" x2="423.7" y2="1702" stroke="#000" stroke-width="2"/>
<text x="423.7" y="1717.6" font-size="18.6" text-anchor="middle" fill="#1a1a1a" color="#1a1a1a">0.6</text>
<line x1="455.1" y1="1692.8" x2="455.1" y2="1702" stroke="#000" stroke-width="2"/>
<text x="455.1" y="1717.6" font-size="18.6" text-anchor="middle" fill="#1a1a1a" color="#1a1a1a">0.4</text>
<line x1="485.8" y1="1692.8" x2="485.8" y2="1702" stroke="#000" stroke-width="2"/>
<text x="485.8" y="1717.6" font-size="18.6" text-anchor="middle" fill="#1a1a1a" color="#1a1a1a">0.2</text>
<line x1="1010.3" y1="1180.2" x2="1010.3" y2="1187.3" stroke="#9fd2ae" stroke-width="1"/>
<line x1="1012" y1="1180.2" x2="1012" y2="1187.3" stroke="#9fd2ae" stroke-width="1"/>
<line x1="1035.5" y1="1180.2" x2="1035.5" y2="1187.3" stroke="#f3b3a8" stroke-width="1"/>
<line x1="1050.2" y1="1180.2" x2="1050.2" y2="1187.3" stroke="#9fd2ae" stroke-width="1"/>
<line x1="1057.2" y1="1180.2" x2="1057.2" y2="1187.3" stroke="#aeaef5" stroke-width="1"/>
<line x1="1128.5" y1="1180.2" x2="1128.5" y2="1187.3" stroke="#f3b3a8" stroke-width="1"/>
<line x1="1130.8" y1="1180.2" x2="1130.8" y2="1187.3" stroke="#9fd2ae" stroke-width="1"/>
<line x1="1133" y1="1180.2" x2="1133" y2="1187.3" stroke="#f3b3a8" stroke-width="1"/>
<line x1="1135.9" y1="1180.2" x2="1135.9" y2="1187.3" stroke="#9fd2ae" stroke-width="1"/>
<line x1="1154.4" y1="1180.2" x2="1154.4" y2="1187.3" stroke="#9fd2ae" stroke-width="1"/>
<line x1="1221" y1="1180.2" x2="1221" y2="1187.3" stroke="#f3b3a8" stroke-width="1"/>
<line x1="1223.2" y1="1180.2" x2="1223.2" y2="1187.3" stroke="#f3b3a8" stroke-width="1"/>
<line x1="1225" y1="1180.2" x2="1225" y2="1187.3" stroke="#f3b3a8" stroke-width="1"/>
<line x1="1226.9" y1="1180.2" x2="1226.9" y2="1187.3" stroke="#f3b3a8" stroke-width="1"/>
<line x1="1243" y1="1180.2" x2="1243" y2="1187.3" stroke="#9fd2ae" stroke-width="1"/>
<line x1="1245.2" y1="1180.2" x2="1245.2" y2="1187.3" stroke="#9fd2ae" stroke-width="1"/>
<line x1="1247.4" y1="1180.2" x2="1247.4" y2="1187.3" stroke="#f3b3a8" stroke-width="1"/>
<line x1="1264.4" y1="1180.2" x2="1264.4" y2="1187.3" stroke="#9fd2ae" stroke-width="1"/>
<line x1="1269.4" y1="1180.2" x2="1269.4" y2="1187.3" stroke="#aeaef5" stroke-width="1"/>
<line x1="1272.4" y1="1180.2" x2="1272.4" y2="1187.3" stroke="#aeaef5" stroke-width="1"/>
<line x1="1296.7" y1="1180.2" x2="1296.7" y2="1187.3" stroke="#f3b3a8" stroke-width="1"/>
<line x1="1310.5" y1="1180.2" x2="1310.5" y2="1187.3" stroke="#f3b3a8" stroke-width="1"/>
<line x1="1312" y1="1180.2" x2="1312" y2="1187.3" stroke="#9fd2ae" stroke-width="1"/>
<line x1="1322.3" y1="1180.2" x2="1322.3" y2="1187.3" stroke="#9fd2ae" stroke-width="1"/>
<line x1="1323.7" y1="1180.2" x2="1323.7" y2="1187.3" stroke="#9fd2ae" stroke-width="1"/>
<line x1="1337" y1="1180.2" x2="1337" y2="1187.3" stroke="#aeaef5" stroke-width="1"/>
<line x1="1350.2" y1="1180.2" x2="1350.2" y2="1187.3" stroke="#f3b3a8" stroke-width="1"/>
<line x1="1356.6" y1="1180.2" x2="1356.6" y2="1187.3" stroke="#9fd2ae" stroke-width="1"/>
<line x1="1359" y1="1180.2" x2="1359" y2="1187.3" stroke="#f3b3a8" stroke-width="1"/>
<line x1="1363.4" y1="1180.2" x2="1363.4" y2="1187.3" stroke="#aeaef5" stroke-width="1"/>
<line x1="1365.5" y1="1180.2" x2="1365.5" y2="1187.3" stroke="#aeaef5" stroke-width="1"/>
<line x1="1367.2" y1="1180.2" x2="1367.2" y2="1187.3" stroke="#aeaef5" stroke-width="1"/>
<line x1="1369.2" y1="1180.2" x2="1369.2" y2="1187.3" stroke="#aeaef5" stroke-width="1"/>
<line x1="1375" y1="1180.2" x2="1375" y2="1187.3" stroke="#f3b3a8" stroke-width="1"/>
<line x1="1377.5" y1="1180.2" x2="1377.5" y2="1187.3" stroke="#f3b3a8" stroke-width="1"/>
<line x1="1379.5" y1="1180.2" x2="1379.5" y2="1187.3" stroke="#aeaef5" stroke-width="1"/>
<line x1="1381.5" y1="1180.2" x2="1381.5" y2="1187.3" stroke="#aeaef5" stroke-width="1"/>
<line x1="1383.6" y1="1180.2" x2="1383.6" y2="1187.3" stroke="#aeaef5" stroke-width="1"/>
<line x1="1385.5" y1="1180.2" x2="1385.5" y2="1187.3" stroke="#aeaef5" stroke-width="1"/>
<line x1="1387.5" y1="1180.2" x2="1387.5" y2="1187.3" stroke="#aeaef5" stroke-width="1"/>
<line x1="1389" y1="1180.2" x2="1389" y2="1187.3" stroke="#f3b3a8" stroke-width="1"/>
<line x1="1391" y1="1180.2" x2="1391" y2="1187.3" stroke="#aeaef5" stroke-width="1"/>
<line x1="1393" y1="1180.2" x2="1393" y2="1187.3" stroke="#aeaef5" stroke-width="1"/>
<line x1="1394.2" y1="1180.2" x2="1394.2" y2="1187.3" stroke="#aeaef5" stroke-width="1"/>
<line x1="995.4" y1="1623.72" x2="1412.5" y2="1178.57" stroke="#BEBEBE" stroke-width="2.3"/>
<line x1="1067.5" y1="1387.5" x2="1067.5" y2="1598.3" stroke="#1B9A4A" stroke-width="2"/>
<line x1="1060.5" y1="1387.5" x2="1074.5" y2="1387.5" stroke="#1B9A4A" stroke-width="2"/>
<line x1="1060.5" y1="1598.3" x2="1074.5" y2="1598.3" stroke="#1B9A4A" stroke-width="2"/>
<line x1="1130" y1="1401.2" x2="1130" y2="1538.7" stroke="#E64B35" stroke-width="2"/>
<line x1="1124" y1="1401.2" x2="1136" y2="1401.2" stroke="#E64B35" stroke-width="2"/>
<line x1="1124" y1="1538.7" x2="1136" y2="1538.7" stroke="#E64B35" stroke-width="2"/>
<line x1="1175.7" y1="1349.4" x2="1175.7" y2="1461" stroke="#1B9A4A" stroke-width="2"/>
<line x1="1168.7" y1="1349.4" x2="1182.7" y2="1349.4" stroke="#1B9A4A" stroke-width="2"/>
<line x1="1168.7" y1="1461" x2="1182.7" y2="1461" stroke="#1B9A4A" stroke-width="2"/>
<line x1="1258.6" y1="1289.6" x2="1258.6" y2="1383.8" stroke="#E64B35" stroke-width="2"/>
<line x1="1252.6" y1="1289.6" x2="1264.6" y2="1289.6" stroke="#E64B35" stroke-width="2"/>
<line x1="1252.6" y1="1383.8" x2="1264.6" y2="1383.8" stroke="#E64B35" stroke-width="2"/>
<line x1="1267.6" y1="1283.6" x2="1267.6" y2="1405.5" stroke="#1B9A4A" stroke-width="2"/>
<line x1="1260.6" y1="1283.6" x2="1274.6" y2="1283.6" stroke="#1B9A4A" stroke-width="2"/>
<line x1="1260.6" y1="1405.5" x2="1274.6" y2="1405.5" stroke="#1B9A4A" stroke-width="2"/>
<line x1="1317.8" y1="1253.6" x2="1317.8" y2="1362.9" stroke="#1414F0" stroke-width="1.8"/>
<line x1="1315.5" y1="1253.6" x2="1320.1" y2="1253.6" stroke="#1414F0" stroke-width="1.8"/>
<line x1="1315.5" y1="1362.9" x2="1320.1" y2="1362.9" stroke="#1414F0" stroke-width="1.8"/>
<line x1="1323.4" y1="1236.8" x2="1323.4" y2="1329.6" stroke="#E64B35" stroke-width="2"/>
<line x1="1317.4" y1="1236.8" x2="1329.4" y2="1236.8" stroke="#E64B35" stroke-width="2"/>
<line x1="1317.4" y1="1329.6" x2="1329.4" y2="1329.6" stroke="#E64B35" stroke-width="2"/>
<line x1="1327.3" y1="1247.8" x2="1327.3" y2="1364.3" stroke="#1B9A4A" stroke-width="2"/>
<line x1="1320.3" y1="1247.8" x2="1334.3" y2="1247.8" stroke="#1B9A4A" stroke-width="2"/>
<line x1="1320.3" y1="1364.3" x2="1334.3" y2="1364.3" stroke="#1B9A4A" stroke-width="2"/>
<line x1="1359.5" y1="1202.8" x2="1359.5" y2="1262.2" stroke="#E64B35" stroke-width="2"/>
<line x1="1353.5" y1="1202.8" x2="1365.5" y2="1202.8" stroke="#E64B35" stroke-width="2"/>
<line x1="1353.5" y1="1262.2" x2="1365.5" y2="1262.2" stroke="#E64B35" stroke-width="2"/>
<line x1="1369.8" y1="1195.4" x2="1369.8" y2="1238.9" stroke="#1B9A4A" stroke-width="2"/>
<line x1="1362.8" y1="1195.4" x2="1376.8" y2="1195.4" stroke="#1B9A4A" stroke-width="2"/>
<line x1="1362.8" y1="1238.9" x2="1376.8" y2="1238.9" stroke="#1B9A4A" stroke-width="2"/>
<line x1="1372.5" y1="1200.2" x2="1372.5" y2="1240.8" stroke="#1414F0" stroke-width="1.8"/>
<line x1="1370.2" y1="1200.2" x2="1374.8" y2="1200.2" stroke="#1414F0" stroke-width="1.8"/>
<line x1="1370.2" y1="1240.8" x2="1374.8" y2="1240.8" stroke="#1414F0" stroke-width="1.8"/>
<line x1="1385.3" y1="1198" x2="1385.3" y2="1211.7" stroke="#1414F0" stroke-width="1.8"/>
<line x1="1383" y1="1198" x2="1387.6" y2="1198" stroke="#1414F0" stroke-width="1.8"/>
<line x1="1383" y1="1211.7" x2="1387.6" y2="1211.7" stroke="#1414F0" stroke-width="1.8"/>
<polyline points="1130,1488.2 1258.4,1340.5 1323.4,1287.4 1359.1,1234.3 1382.3,1195.4 1390,1195.2" fill="none" stroke="#E64B35" stroke-width="2.2"/>
<polyline points="1067.5,1556.1 1129.7,1480.7 1175.7,1412.4 1267.4,1349.7 1321.3,1314 1326.9,1308.4 1369.8,1212.6" fill="none" stroke="#1B9A4A" stroke-width="2.2"/>
<polyline points="1317.8,1313.3 1364.1,1235 1389.3,1200.4 1396,1195.2" fill="none" stroke="#1414F0" stroke-width="2.2"/>
<circle cx="1067.5" cy="1562.9" r="5.2" fill="#C5C3E0"/>
<circle cx="1175.7" cy="1413.5" r="5.2" fill="#C5C3E0"/>
<circle cx="1267.4" cy="1352.2" r="5.2" fill="#C5C3E0"/>
<circle cx="1327.3" cy="1311.9" r="5.2" fill="#C5C3E0"/>
<circle cx="1369.8" cy="1208.4" r="5.2" fill="#C5C3E0"/>
<circle cx="1130" cy="1488.2" r="5" fill="#E64B35"/>
<circle cx="1258.4" cy="1340.5" r="5" fill="#E64B35"/>
<circle cx="1323.4" cy="1285.3" r="5" fill="#E64B35"/>
<circle cx="1359.4" cy="1232.9" r="5" fill="#E64B35"/>
<circle cx="1382.4" cy="1193" r="5" fill="#E64B35"/>
<circle cx="1387.2" cy="1195.2" r="5" fill="#E64B35"/>
<circle cx="1317.8" cy="1313.3" r="5" fill="#46C0E0"/>
<circle cx="1374.6" cy="1221.4" r="5" fill="#46C0E0"/>
<circle cx="1385.6" cy="1202.1" r="5" fill="#46C0E0"/>
<circle cx="1393" cy="1195.2" r="5" fill="#46C0E0"/>
<circle cx="1397.7" cy="1195.2" r="5" fill="#46C0E0"/>
<path d="M 1063.5 1552.1 L 1071.5 1560.1 M 1063.5 1560.1 L 1071.5 1552.1" stroke="#1414F0" stroke-width="2.5" fill="none"/>
<path d="M 1125.7 1476.7 L 1133.7 1484.7 M 1125.7 1484.7 L 1133.7 1476.7" stroke="#1414F0" stroke-width="2.5" fill="none"/>
<path d="M 1171.7 1408.4 L 1179.7 1416.4 M 1171.7 1416.4 L 1179.7 1408.4" stroke="#1414F0" stroke-width="2.5" fill="none"/>
<path d="M 1254.6 1336.9 L 1262.6 1344.9 M 1254.6 1344.9 L 1262.6 1336.9" stroke="#1414F0" stroke-width="2.5" fill="none"/>
<path d="M 1263.4 1345.7 L 1271.4 1353.7 M 1263.4 1353.7 L 1271.4 1345.7" stroke="#1414F0" stroke-width="2.5" fill="none"/>
<path d="M 1313.8 1309.3 L 1321.8 1317.3 M 1313.8 1317.3 L 1321.8 1309.3" stroke="#1414F0" stroke-width="2.5" fill="none"/>
<path d="M 1319.4 1285.5 L 1327.4 1293.5 M 1319.4 1293.5 L 1327.4 1285.5" stroke="#1414F0" stroke-width="2.5" fill="none"/>
<path d="M 1323.3 1320.4 L 1331.3 1328.4 M 1323.3 1328.4 L 1331.3 1320.4" stroke="#1414F0" stroke-width="2.5" fill="none"/>
<path d="M 1357 1234.7 L 1365 1242.7 M 1357 1242.7 L 1365 1234.7" stroke="#1414F0" stroke-width="2.5" fill="none"/>
<path d="M 1365.9 1209 L 1373.9 1217 M 1365.9 1217 L 1373.9 1209" stroke="#1414F0" stroke-width="2.5" fill="none"/>
<path d="M 1370.1 1221.1 L 1378.1 1229.1 M 1370.1 1229.1 L 1378.1 1221.1" stroke="#1414F0" stroke-width="2.5" fill="none"/>
<path d="M 1381.6 1199 L 1389.6 1207 M 1381.6 1207 L 1389.6 1199" stroke="#1414F0" stroke-width="2.5" fill="none"/>
<path d="M 1378.5 1191.7 L 1386.5 1199.7 M 1378.5 1199.7 L 1386.5 1191.7" stroke="#1414F0" stroke-width="2.5" fill="none"/>
<path d="M 1387.8 1191.2 L 1395.8 1199.2 M 1387.8 1199.2 L 1395.8 1191.2" stroke="#1414F0" stroke-width="2.5" fill="none"/>
<path d="M 1392.6 1191.2 L 1400.6 1199.2 M 1392.6 1199.2 L 1400.6 1191.2" stroke="#1414F0" stroke-width="2.5" fill="none"/>
<rect x="995.4" y="1178.6" width="417.1" height="445.6" fill="none" stroke="#000" stroke-width="2"/>
<line x1="987.2" y1="1607.5" x2="995.4" y2="1607.5" stroke="#333" stroke-width="1.8"/>
<text x="981.6" y="1614.4" font-size="18.6" text-anchor="end" fill="#595959" color="#595959">0.0</text>
<line x1="1010.6" y1="1624.2" x2="1010.6" y2="1631.8" stroke="#333" stroke-width="1.8"/>
<text x="1010.6" y="1651.3" font-size="18.6" text-anchor="middle" fill="#595959" color="#595959">0.0</text>
<line x1="987.2" y1="1524.98" x2="995.4" y2="1524.98" stroke="#333" stroke-width="1.8"/>
<text x="981.6" y="1531.88" font-size="18.6" text-anchor="end" fill="#595959" color="#595959">0.2</text>
<line x1="1087.92" y1="1624.2" x2="1087.92" y2="1631.8" stroke="#333" stroke-width="1.8"/>
<text x="1087.92" y="1651.3" font-size="18.6" text-anchor="middle" fill="#595959" color="#595959">0.2</text>
<line x1="987.2" y1="1442.46" x2="995.4" y2="1442.46" stroke="#333" stroke-width="1.8"/>
<text x="981.6" y="1449.36" font-size="18.6" text-anchor="end" fill="#595959" color="#595959">0.4</text>
<line x1="1165.24" y1="1624.2" x2="1165.24" y2="1631.8" stroke="#333" stroke-width="1.8"/>
<text x="1165.24" y="1651.3" font-size="18.6" text-anchor="middle" fill="#595959" color="#595959">0.4</text>
<line x1="987.2" y1="1359.94" x2="995.4" y2="1359.94" stroke="#333" stroke-width="1.8"/>
<text x="981.6" y="1366.84" font-size="18.6" text-anchor="end" fill="#595959" color="#595959">0.6</text>
<line x1="1242.56" y1="1624.2" x2="1242.56" y2="1631.8" stroke="#333" stroke-width="1.8"/>
<text x="1242.56" y="1651.3" font-size="18.6" text-anchor="middle" fill="#595959" color="#595959">0.6</text>
<line x1="987.2" y1="1277.42" x2="995.4" y2="1277.42" stroke="#333" stroke-width="1.8"/>
<text x="981.6" y="1284.32" font-size="18.6" text-anchor="end" fill="#595959" color="#595959">0.8</text>
<line x1="1319.88" y1="1624.2" x2="1319.88" y2="1631.8" stroke="#333" stroke-width="1.8"/>
<text x="1319.88" y="1651.3" font-size="18.6" text-anchor="middle" fill="#595959" color="#595959">0.8</text>
<line x1="987.2" y1="1194.9" x2="995.4" y2="1194.9" stroke="#333" stroke-width="1.8"/>
<text x="981.6" y="1201.8" font-size="18.6" text-anchor="end" fill="#595959" color="#595959">1.0</text>
<line x1="1397.2" y1="1624.2" x2="1397.2" y2="1631.8" stroke="#333" stroke-width="1.8"/>
<text x="1397.2" y="1651.3" font-size="18.6" text-anchor="middle" fill="#595959" color="#595959">1.0</text>
<text x="1203.9" y="1680" font-size="21.2" text-anchor="middle" fill="#000" color="#000">Nomogram predicted survival probability</text>
<text x="0" y="0" font-size="21.2" text-anchor="middle" fill="#000" color="#000" transform="translate(943.1,1401.5) rotate(-90)">Observed fraction survival probability</text>
<line x1="1295.4" y1="1551.7" x2="1314.8" y2="1551.7" stroke="#1414F0" stroke-width="1.8" stroke-linecap="round"/>
<text x="1326.6" y="1558.1" font-size="18.6" fill="#000" color="#000">1-year</text>
<line x1="1295.4" y1="1569.8" x2="1314.8" y2="1569.8" stroke="#E64B35" stroke-width="1.8" stroke-linecap="round"/>
<text x="1326.6" y="1576.2" font-size="18.6" fill="#000" color="#000">3-year</text>
<line x1="1295.4" y1="1587.8" x2="1314.8" y2="1587.8" stroke="#1B9A4A" stroke-width="1.8" stroke-linecap="round"/>
<text x="1326.6" y="1594.2" font-size="18.6" fill="#000" color="#000">5-year</text>
<line x1="1295.4" y1="1605.8" x2="1314.8" y2="1605.8" stroke="#BEBEBE" stroke-width="1.8" stroke-linecap="round"/>
<text x="1326.6" y="1612.2" font-size="18.6" fill="#000" color="#000">Ideal line</text>
</svg>
</body></html>
